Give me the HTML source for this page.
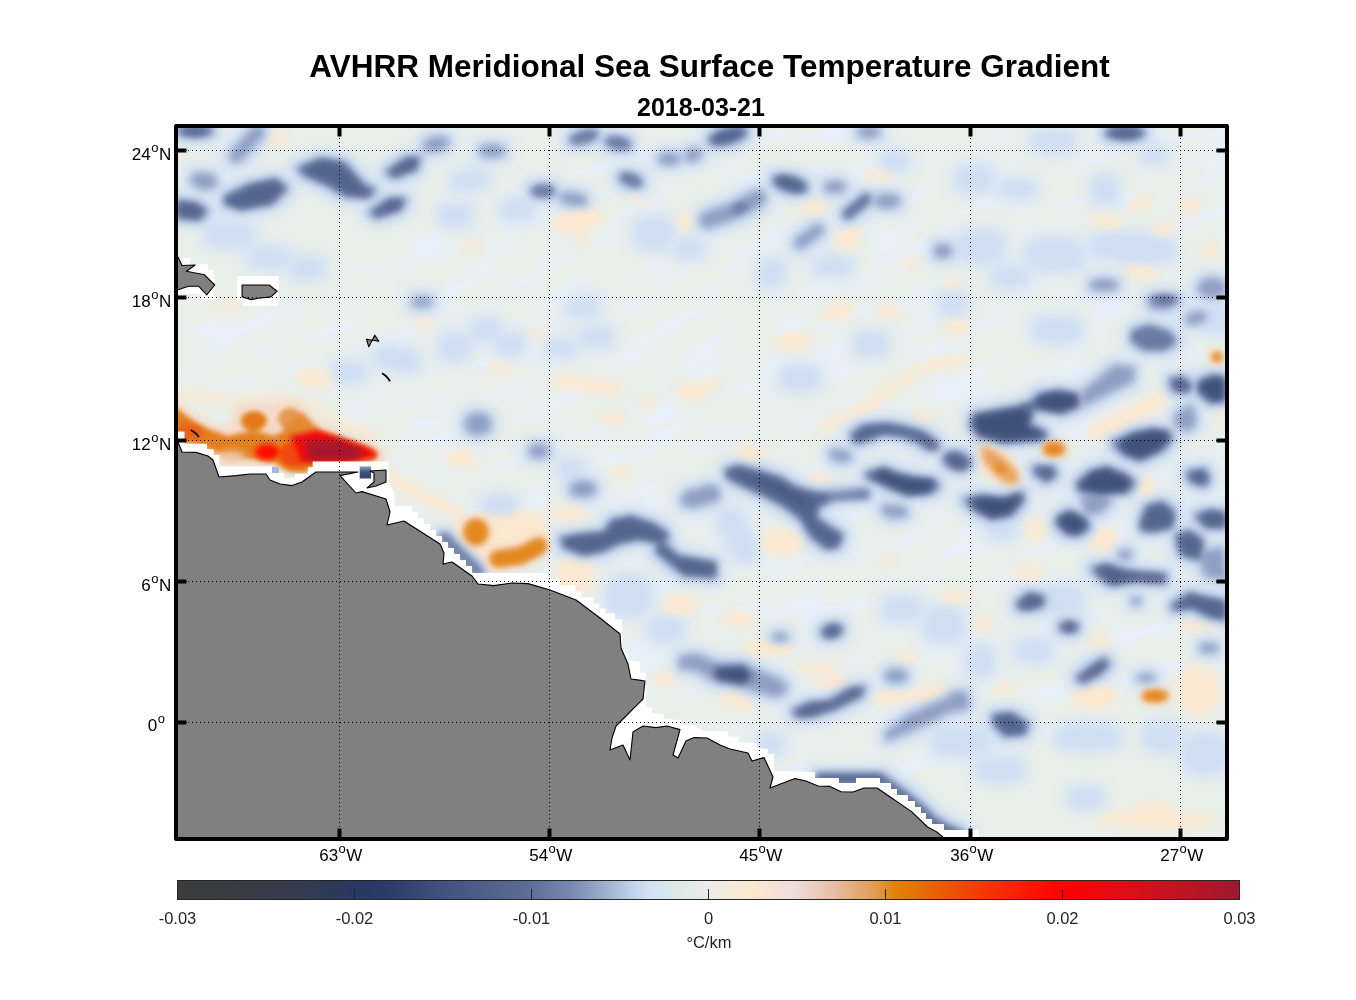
<!DOCTYPE html>
<html><head><meta charset="utf-8"><title>AVHRR Meridional SST Gradient</title>
<style>html,body{margin:0;padding:0;background:#fff;}body{width:1356px;height:1000px;position:relative;overflow:hidden;font-family:"Liberation Sans",sans-serif;}</style>
</head><body>
<svg width="1356" height="1000" viewBox="0 0 1356 1000" style="position:absolute;left:0;top:0"><defs><clipPath id="mapclip"><rect x="178" y="128" width="1047" height="709"/></clipPath><linearGradient id="cbar" x1="0" x2="1" y1="0" y2="0"><stop offset="0%" stop-color="#3c3c3c"/><stop offset="5%" stop-color="#3a3b40"/><stop offset="10%" stop-color="#363c4c"/><stop offset="15%" stop-color="#2c3a58"/><stop offset="17%" stop-color="#263864"/><stop offset="20%" stop-color="#2a3c68"/><stop offset="25%" stop-color="#40527e"/><stop offset="33.3%" stop-color="#5e6e98"/><stop offset="37%" stop-color="#7888b0"/><stop offset="40%" stop-color="#98acca"/><stop offset="43%" stop-color="#c0d4ec"/><stop offset="44.5%" stop-color="#d0e2f6"/><stop offset="47%" stop-color="#dceae6"/><stop offset="50%" stop-color="#ececea"/><stop offset="54%" stop-color="#fde9cc"/><stop offset="58%" stop-color="#eedddd"/><stop offset="62%" stop-color="#e8bca0"/><stop offset="66%" stop-color="#e09848"/><stop offset="67.5%" stop-color="#e08408"/><stop offset="75%" stop-color="#f04000"/><stop offset="83.3%" stop-color="#ff0000"/><stop offset="90%" stop-color="#d81018"/><stop offset="100%" stop-color="#a01830"/></linearGradient></defs><g clip-path="url(#mapclip)"><rect x="178" y="128" width="1047" height="709" fill="#e9efe9"/><filter id="turb" x="0" y="0" width="100%" height="100%"><feTurbulence type="fractalNoise" baseFrequency="0.018 0.05" numOctaves="2" seed="7" result="n"/><feColorMatrix in="n" type="matrix" values="0 0 0 0 0.80  0 0 0 0 0.87  0 0 0 0 0.96  3.2 0 0 0 -1.45"/></filter><g transform="rotate(-22 700 480)"><rect x="0" y="150" width="1400" height="700" filter="url(#turb)"/></g><filter id="fl1" x="-10%" y="-10%" width="120%" height="120%"><feMorphology operator="dilate" radius="9" result="m"/><feGaussianBlur stdDeviation="7"/></filter><g filter="url(#fl1)"><ellipse cx="195" cy="131" rx="18" ry="6" fill="#d9e6f4"/><polyline points="258,132 236,156" fill="none" stroke="#d9e6f4" stroke-width="11" stroke-linecap="round" stroke-linejoin="round"/><ellipse cx="204" cy="181" rx="12" ry="7" transform="rotate(10 204 181)" fill="#d9e6f4"/><polygon points="176,200.2 196,202.2 208.1,210.2 200.1,220.3 176,218.3" fill="#d9e6f4"/><polygon points="224.1,196.2 248.2,184.2 276.3,178.2 288.3,188.2 272.3,204.2 240.2,210.2 224.1,204.2" fill="#d9e6f4"/><polygon points="296.3,168.1 320.4,158.1 344.5,162.1 364.5,184.2 376.6,190.2 368.5,198.2 344.5,196.2 328.4,186.2 304.4,176.1" fill="#d9e6f4"/><polygon points="384.6,172.1 404.6,158.1 420.7,156.1 416.7,170.1 394.6,178.2" fill="#d9e6f4"/><ellipse cx="436" cy="144" rx="12" ry="6" transform="rotate(-15 436 144)" fill="#d9e6f4"/><polygon points="368.5,212.2 388.6,198.2 406.6,198.2 400.6,210.2 376.6,218.3" fill="#d9e6f4"/><ellipse cx="307" cy="268" rx="12" ry="7" fill="#d9e6f4"/><ellipse cx="230" cy="235" rx="20" ry="8" fill="#d9e6f4"/><ellipse cx="270" cy="258" rx="16" ry="6" fill="#d9e6f4"/><ellipse cx="492" cy="151" rx="12" ry="5" fill="#d9e6f4"/><ellipse cx="543" cy="191" rx="12" ry="6" fill="#d9e6f4"/><ellipse cx="573" cy="199" rx="13" ry="5" transform="rotate(10 573 199)" fill="#d9e6f4"/><ellipse cx="584" cy="137" rx="15" ry="6" transform="rotate(-15 584 137)" fill="#d9e6f4"/><ellipse cx="618" cy="143" rx="13" ry="6" transform="rotate(10 618 143)" fill="#d9e6f4"/><ellipse cx="631" cy="180" rx="12" ry="6" transform="rotate(20 631 180)" fill="#d9e6f4"/><ellipse cx="669" cy="159" rx="10" ry="5" fill="#d9e6f4"/><ellipse cx="693" cy="155" rx="8" ry="5" transform="rotate(-20 693 155)" fill="#d9e6f4"/><ellipse cx="518" cy="210" rx="12" ry="6" fill="#d9e6f4"/><ellipse cx="654" cy="233" rx="15" ry="12" fill="#d9e6f4"/><ellipse cx="689" cy="248" rx="10" ry="5" fill="#d9e6f4"/><ellipse cx="470" cy="180" rx="14" ry="5" transform="rotate(-10 470 180)" fill="#d9e6f4"/><ellipse cx="455" cy="215" rx="12" ry="6" fill="#d9e6f4"/><ellipse cx="728" cy="136" rx="20" ry="8" transform="rotate(-15 728 136)" fill="#d9e6f4"/><polyline points="708,220 736,210 758,198" fill="none" stroke="#d9e6f4" stroke-width="14" stroke-linecap="round" stroke-linejoin="round"/><ellipse cx="740" cy="208" rx="10" ry="6" transform="rotate(-20 740 208)" fill="#d9e6f4"/><ellipse cx="790" cy="184" rx="18" ry="8" transform="rotate(15 790 184)" fill="#d9e6f4"/><ellipse cx="835" cy="187" rx="10" ry="5" fill="#d9e6f4"/><polyline points="848,214 866,199" fill="none" stroke="#d9e6f4" stroke-width="10" stroke-linecap="round" stroke-linejoin="round"/><ellipse cx="887" cy="201" rx="12" ry="6" fill="#d9e6f4"/><ellipse cx="869" cy="132" rx="10" ry="5" fill="#d9e6f4"/><ellipse cx="895" cy="161" rx="9" ry="5" fill="#d9e6f4"/><polyline points="800,243 818,230" fill="none" stroke="#d9e6f4" stroke-width="9" stroke-linecap="round" stroke-linejoin="round"/><ellipse cx="833" cy="266" rx="14" ry="5" fill="#d9e6f4"/><ellipse cx="772" cy="273" rx="7" ry="10" transform="rotate(30 772 273)" fill="#d9e6f4"/><ellipse cx="943" cy="251" rx="8" ry="6" fill="#d9e6f4"/><ellipse cx="1125" cy="133" rx="20" ry="7" fill="#d9e6f4"/><ellipse cx="1155" cy="154" rx="8" ry="4" fill="#d9e6f4"/><ellipse cx="974" cy="179" rx="14" ry="9" fill="#d9e6f4"/><ellipse cx="1017" cy="189" rx="13" ry="5" fill="#d9e6f4"/><ellipse cx="1133" cy="248" rx="38" ry="10" transform="rotate(5 1133 248)" fill="#d9e6f4"/><ellipse cx="1104" cy="285" rx="13" ry="5" fill="#d9e6f4"/><ellipse cx="1053" cy="141" rx="17" ry="7" fill="#d9e6f4"/><ellipse cx="1105" cy="190" rx="9" ry="10" fill="#d9e6f4"/><ellipse cx="980" cy="247" rx="20" ry="12" fill="#d9e6f4"/><ellipse cx="1055" cy="255" rx="25" ry="12" fill="#d9e6f4"/><ellipse cx="1010" cy="277" rx="14" ry="6" fill="#d9e6f4"/><ellipse cx="1212" cy="288" rx="13" ry="9" fill="#d9e6f4"/><ellipse cx="1164" cy="300" rx="15" ry="5" fill="#d9e6f4"/><ellipse cx="350" cy="372" rx="11" ry="6" fill="#d9e6f4"/><ellipse cx="397" cy="359" rx="18" ry="7" transform="rotate(15 397 359)" fill="#d9e6f4"/><ellipse cx="422" cy="302" rx="9" ry="4" fill="#d9e6f4"/><ellipse cx="478" cy="424" rx="12" ry="10" fill="#d9e6f4"/><ellipse cx="539" cy="451" rx="9" ry="6" fill="#d9e6f4"/><ellipse cx="571" cy="469" rx="8" ry="6" fill="#d9e6f4"/><ellipse cx="455" cy="347" rx="11" ry="9" fill="#d9e6f4"/><ellipse cx="485" cy="330" rx="11" ry="6" transform="rotate(-15 485 330)" fill="#d9e6f4"/><ellipse cx="510" cy="344" rx="10" ry="6" fill="#d9e6f4"/><ellipse cx="561" cy="348" rx="10" ry="4" fill="#d9e6f4"/><ellipse cx="597" cy="337" rx="12" ry="5" fill="#d9e6f4"/><ellipse cx="583" cy="307" rx="12" ry="5" transform="rotate(-15 583 307)" fill="#d9e6f4"/><ellipse cx="871" cy="344" rx="12" ry="8" fill="#d9e6f4"/><ellipse cx="800" cy="378" rx="16" ry="8" fill="#d9e6f4"/><ellipse cx="953" cy="304" rx="10" ry="6" fill="#d9e6f4"/><polygon points="849.6,434.5 863,424.9 887.9,423 907.1,426.8 926.3,432.6 937.8,442.2 939.7,449.9 928.2,449.9 916.7,442.2 901.3,436.4 884.1,434.5 868.7,440.3 855.3,444.1" fill="#d9e6f4"/><polygon points="830.4,449.9 845.7,451.8 851.5,457.5 841.9,461.4 832.3,457.5" fill="#d9e6f4"/><ellipse cx="957" cy="461" rx="14" ry="9" transform="rotate(15 957 461)" fill="#d9e6f4"/><polygon points="724.9,469 738.4,465.2 757.5,470 780.5,476.7 795.9,486.3 815,492 834.2,494 868.7,490.1 868.7,497.8 834.2,499.7 818.9,507.4 817,517 830.4,526.6 843.8,534.2 838.1,547.7 826.6,549.6 811.2,538.1 799.7,518.9 784.4,507.4 763.3,495.9 738.4,484.4 726.8,478.6" fill="#d9e6f4"/><polygon points="734.5,471 761.4,474.8 786.3,484.4 807.4,495.9 813.1,507.4 807.4,515 792,503.5 769,492 742.2,480.5" fill="#d9e6f4"/><polygon points="864.9,472.9 884.1,467.1 899.4,472.9 914.8,476.7 933.9,478.6 939.7,486.3 930.1,494 907.1,495.9 891.8,490.1 876.4,482.5 866.8,478.6" fill="#d9e6f4"/><polyline points="823,496 865,493" fill="none" stroke="#d9e6f4" stroke-width="8" stroke-linecap="round" stroke-linejoin="round"/><polygon points="882.2,505.5 903.3,507.4 907.1,515 891.8,517 884.1,513.1" fill="#d9e6f4"/><ellipse cx="709" cy="494" rx="10" ry="8" fill="#d9e6f4"/><polygon points="972.7,414 1000,409 1025,405 1034,414 1030,424 1046,431 1047,440 1003,443 978,437 970,426" fill="#d9e6f4"/><polygon points="1038.8,393.2 1058,390 1078,393.2 1080,407 1062,414 1038,410 1030,402" fill="#d9e6f4"/><polyline points="1020,410 1045,402" fill="none" stroke="#d9e6f4" stroke-width="10" stroke-linecap="round" stroke-linejoin="round"/><polygon points="1082,393 1115,366 1134,368 1132,381 1107,393 1082,406" fill="#d9e6f4"/><polygon points="1131.7,331.3 1148.2,325.1 1168.9,331.3 1177.1,341.6 1164.8,349.9 1144.1,349.9 1131.7,341.6" fill="#d9e6f4"/><polygon points="1111,442.8 1131.7,432.5 1152.4,428.3 1168.9,430.4 1173,438.7 1162.7,451.1 1140,461.4 1123.4,455.2" fill="#d9e6f4"/><polygon points="1197.8,380.8 1212.2,374.7 1226,376.7 1226,401.5 1210.2,403.6 1197.8,393.2" fill="#d9e6f4"/><polygon points="1168.9,378.8 1183.3,376.7 1193.6,385 1187.5,393.2 1173,391.2" fill="#d9e6f4"/><polygon points="1177,414 1191.6,405.6 1195.7,422.2 1187.5,430.4 1175,424.2" fill="#d9e6f4"/><ellipse cx="1161" cy="304" rx="11" ry="5" fill="#d9e6f4"/><ellipse cx="1196" cy="318" rx="10" ry="5" transform="rotate(-15 1196 318)" fill="#d9e6f4"/><ellipse cx="1057" cy="330" rx="20" ry="9" fill="#d9e6f4"/><ellipse cx="1218" cy="320" rx="10" ry="10" fill="#d9e6f4"/><ellipse cx="962" cy="462" rx="6" ry="9" fill="#d9e6f4"/><polygon points="559.5,537.7 579.4,533.7 603.3,531.7 611.2,519.8 631.2,515.8 655,523.8 667,531.7 669,539.7 659,543.7 639,539.7 619.2,543.7 603.3,551.7 583.4,555.6 563.5,547.7" fill="#d9e6f4"/><polygon points="659,537.7 679,555.6 716,562 716,578 683,575.5 655,551.7" fill="#d9e6f4"/><ellipse cx="583" cy="489" rx="12" ry="7" fill="#d9e6f4"/><ellipse cx="696" cy="498" rx="14" ry="8" transform="rotate(-10 696 498)" fill="#d9e6f4"/><ellipse cx="629" cy="596" rx="18" ry="16" fill="#d9e6f4"/><ellipse cx="666" cy="629" rx="13" ry="8" fill="#d9e6f4"/><polyline points="444,538 478,572" fill="none" stroke="#d9e6f4" stroke-width="10" stroke-linecap="round" stroke-linejoin="round"/><ellipse cx="500" cy="506" rx="14" ry="6" fill="#d9e6f4"/><polyline points="730,520 745,550" fill="none" stroke="#d9e6f4" stroke-width="14" stroke-linecap="round" stroke-linejoin="round"/><polygon points="962.4,499.2 981,495.1 1003.7,497.2 1022.3,491 1024.3,501.3 1011.9,515.8 991.3,519.9 974.8,511.6" fill="#d9e6f4"/><polygon points="1076,482.7 1090.4,470.3 1107,466.2 1127.6,474.5 1135.8,482.7 1127.6,493 1098.7,495.1 1078,491" fill="#d9e6f4"/><polygon points="1057.4,515.8 1069.8,509.6 1086.3,517.8 1090.4,528.1 1078,536.4 1065.6,534.3 1055.3,524" fill="#d9e6f4"/><polygon points="1082,495 1100,494 1112,500 1100,512 1086,514" fill="#d9e6f4"/><polygon points="1032.6,466.2 1053.2,466.2 1057.4,474.5 1047,482.7 1034.7,474.5" fill="#d9e6f4"/><polygon points="1140,522 1146.2,505.4 1162.7,501.3 1175.1,511.6 1173,528.1 1152.4,532.3 1140,530.2" fill="#d9e6f4"/><polygon points="1193.6,515 1210,509.6 1226,512 1226,528 1205,528" fill="#d9e6f4"/><polygon points="1175,535 1190,530 1204,540 1200,561 1180,555" fill="#d9e6f4"/><polygon points="1200,553 1222,548 1226,579.8 1205,575" fill="#d9e6f4"/><polygon points="1185.4,472 1205,468.3 1210.2,480 1204,487 1190,482" fill="#d9e6f4"/><polygon points="1090.4,567.4 1107,563.2 1125.5,569.4 1140,571.5 1166.8,573.6 1164.8,583.9 1135.8,581.8 1111,586 1098.7,577.7" fill="#d9e6f4"/><ellipse cx="1114" cy="577" rx="12" ry="6" fill="#d9e6f4"/><polygon points="1016,602.5 1028.5,592.2 1045,596.3 1043,606.6 1028.5,610.7 1018,608.7" fill="#d9e6f4"/><polygon points="1171,604.5 1189.5,592.2 1204,596.3 1226,600.4 1226,621 1208.1,617 1191.6,608.7 1173,610.7" fill="#d9e6f4"/><ellipse cx="1069" cy="627" rx="10" ry="6" fill="#d9e6f4"/><ellipse cx="1001" cy="527" rx="10" ry="7" fill="#d9e6f4"/><ellipse cx="1125" cy="555" rx="6" ry="4" fill="#d9e6f4"/><ellipse cx="1136" cy="601" rx="4" ry="3" fill="#d9e6f4"/><ellipse cx="902" cy="609" rx="15" ry="8" fill="#d9e6f4"/><ellipse cx="944" cy="625" rx="16" ry="13" fill="#d9e6f4"/><ellipse cx="1060" cy="600" rx="20" ry="10" fill="#d9e6f4"/><polygon points="680,657 696.5,655 717.2,663.2 742,663.2 758.5,671.5 779,679.8 787.4,688 777,696.3 762.6,692.2 742,686 717.2,681.8 696.5,669.4 680,667.4" fill="#d9e6f4"/><polygon points="711,667 745,665 756,676 745,686 715,680" fill="#d9e6f4"/><polygon points="791.5,710.7 808,702.5 828.7,700.4 849.3,688 865.8,686 861.7,696.3 837,708.7 812.2,717 795.6,717" fill="#d9e6f4"/><ellipse cx="896" cy="676" rx="10" ry="6" fill="#d9e6f4"/><ellipse cx="832" cy="631" rx="11" ry="7" transform="rotate(-15 832 631)" fill="#d9e6f4"/><ellipse cx="780" cy="637" rx="7" ry="3" fill="#d9e6f4"/><polygon points="886.5,733.4 907,717 938,702.5 954.6,696.3 960,704.5 938,717 907,731.4 886.5,740" fill="#d9e6f4"/><polygon points="1075.4,677.2 1093,664 1104,657.4 1110.6,664 1099.6,675 1082,683.8" fill="#d9e6f4"/><polygon points="991.8,714.6 1011.6,712.4 1029.2,723.4 1024.8,734.4 1005,736.6 994,725.6" fill="#d9e6f4"/><polygon points="950,694 966,692 968,708 950,711" fill="#d9e6f4"/><ellipse cx="1034" cy="651" rx="14" ry="7" fill="#d9e6f4"/><ellipse cx="980" cy="661" rx="9" ry="11" fill="#d9e6f4"/><ellipse cx="1146" cy="678" rx="8" ry="3" fill="#d9e6f4"/><ellipse cx="1209" cy="648" rx="8" ry="4" fill="#d9e6f4"/><ellipse cx="1163" cy="737" rx="15" ry="10" fill="#d9e6f4"/><ellipse cx="1088" cy="737" rx="28" ry="9" fill="#d9e6f4"/><ellipse cx="1086" cy="798" rx="13" ry="6" fill="#d9e6f4"/><ellipse cx="1206" cy="754" rx="19" ry="16" fill="#d9e6f4"/><polyline points="820,779 880,779 893,789 908,800 921,811 932,822 946,830 960,836" fill="none" stroke="#d9e6f4" stroke-width="11" stroke-linecap="round" stroke-linejoin="round"/><ellipse cx="771" cy="744" rx="8" ry="6" fill="#d9e6f4"/><ellipse cx="960" cy="742" rx="25" ry="10" fill="#d9e6f4"/><ellipse cx="1000" cy="770" rx="20" ry="8" fill="#d9e6f4"/></g><filter id="fl2" x="-10%" y="-10%" width="120%" height="120%"><feGaussianBlur stdDeviation="4"/></filter><g filter="url(#fl2)"><ellipse cx="275" cy="139" rx="11" ry="7" transform="rotate(-15 275 139)" fill="#fbe8d0"/><ellipse cx="578" cy="220" rx="27" ry="12" transform="rotate(-10 578 220)" fill="#fbe8d0"/><ellipse cx="581" cy="240" rx="6" ry="7" fill="#fbe8d0"/><ellipse cx="685" cy="222" rx="8" ry="10" fill="#fbe8d0"/><ellipse cx="640" cy="201" rx="11" ry="3" fill="#fbe8d0"/><ellipse cx="472" cy="246" rx="8" ry="5" fill="#fbe8d0"/><ellipse cx="813" cy="207" rx="13" ry="7" fill="#fbe8d0"/><ellipse cx="848" cy="238" rx="15" ry="10" transform="rotate(-20 848 238)" fill="#fbe8d0"/><ellipse cx="878" cy="176" rx="15" ry="6" fill="#fbe8d0"/><ellipse cx="911" cy="261" rx="8" ry="6" fill="#fbe8d0"/><ellipse cx="951" cy="283" rx="8" ry="6" fill="#fbe8d0"/><ellipse cx="1106" cy="221" rx="17" ry="7" transform="rotate(10 1106 221)" fill="#fbe8d0"/><ellipse cx="1139" cy="203" rx="12" ry="7" transform="rotate(-20 1139 203)" fill="#fbe8d0"/><ellipse cx="1189" cy="206" rx="10" ry="8" fill="#fbe8d0"/><ellipse cx="1163" cy="230" rx="12" ry="6" fill="#fbe8d0"/><ellipse cx="1211" cy="251" rx="8" ry="8" fill="#fbe8d0"/><ellipse cx="1141" cy="272" rx="18" ry="7" transform="rotate(10 1141 272)" fill="#fbe8d0"/><ellipse cx="229" cy="306" rx="13" ry="4" fill="#fbe8d0"/><ellipse cx="315" cy="379" rx="20" ry="9" transform="rotate(10 315 379)" fill="#fbe8d0"/><ellipse cx="424" cy="323" rx="9" ry="5" fill="#fbe8d0"/><ellipse cx="498" cy="368" rx="10" ry="6" fill="#fbe8d0"/><ellipse cx="539" cy="336" rx="9" ry="4" fill="#fbe8d0"/><polyline points="560,382 590,385 615,388" fill="none" stroke="#fbe8d0" stroke-width="14" stroke-linecap="round" stroke-linejoin="round"/><ellipse cx="612" cy="418" rx="13" ry="7" fill="#fbe8d0"/><ellipse cx="649" cy="403" rx="10" ry="5" fill="#fbe8d0"/><ellipse cx="692" cy="392" rx="17" ry="10" fill="#fbe8d0"/><ellipse cx="619" cy="470" rx="10" ry="5" fill="#fbe8d0"/><ellipse cx="460" cy="459" rx="16" ry="10" fill="#fbe8d0"/><polyline points="823,427 873,403 889,388 923,368 963,360" fill="none" stroke="#fbe8d0" stroke-width="10" stroke-linecap="round" stroke-linejoin="round"/><ellipse cx="925" cy="415" rx="10" ry="6" fill="#fbe8d0"/><ellipse cx="793" cy="341" rx="19" ry="9" fill="#fbe8d0"/><ellipse cx="839" cy="312" rx="16" ry="9" transform="rotate(-20 839 312)" fill="#fbe8d0"/><ellipse cx="889" cy="311" rx="14" ry="7" fill="#fbe8d0"/><ellipse cx="956" cy="327" rx="13" ry="7" fill="#fbe8d0"/><ellipse cx="750" cy="453" rx="14" ry="8" fill="#fbe8d0"/><ellipse cx="712" cy="384" rx="8" ry="6" fill="#fbe8d0"/><polyline points="1095,432 1160,400" fill="none" stroke="#fbe8d0" stroke-width="18" stroke-linecap="round" stroke-linejoin="round"/><ellipse cx="1218" cy="416" rx="7" ry="7" fill="#fbe8d0"/><ellipse cx="681" cy="605" rx="18" ry="10" fill="#fbe8d0"/><ellipse cx="569" cy="514" rx="18" ry="8" fill="#fbe8d0"/><ellipse cx="575" cy="575" rx="20" ry="18" fill="#fbe8d0"/><ellipse cx="818" cy="477" rx="13" ry="5" fill="#fbe8d0"/><ellipse cx="740" cy="619" rx="16" ry="8" fill="#fbe8d0"/><ellipse cx="782" cy="542" rx="22" ry="14" fill="#fbe8d0"/><ellipse cx="887" cy="561" rx="8" ry="5" fill="#fbe8d0"/><ellipse cx="956" cy="597" rx="17" ry="6" fill="#fbe8d0"/><ellipse cx="768" cy="646" rx="28" ry="6" fill="#fbe8d0"/><ellipse cx="1036" cy="530" rx="10" ry="12" fill="#fbe8d0"/><ellipse cx="1104" cy="539" rx="15" ry="11" transform="rotate(-30 1104 539)" fill="#fbe8d0"/><ellipse cx="1145" cy="487" rx="10" ry="11" fill="#fbe8d0"/><ellipse cx="1028" cy="573" rx="16" ry="7" fill="#fbe8d0"/><ellipse cx="982" cy="624" rx="10" ry="7" fill="#fbe8d0"/><ellipse cx="1100" cy="640" rx="11" ry="7" fill="#fbe8d0"/><ellipse cx="1197" cy="625" rx="22" ry="6" fill="#fbe8d0"/><ellipse cx="664" cy="679" rx="12" ry="7" fill="#fbe8d0"/><ellipse cx="736" cy="702" rx="17" ry="8" transform="rotate(20 736 702)" fill="#fbe8d0"/><ellipse cx="770" cy="651" rx="21" ry="5" fill="#fbe8d0"/><ellipse cx="817" cy="669" rx="22" ry="5" fill="#fbe8d0"/><ellipse cx="832" cy="683" rx="17" ry="7" fill="#fbe8d0"/><ellipse cx="891" cy="698" rx="19" ry="8" fill="#fbe8d0"/><ellipse cx="902" cy="658" rx="8" ry="4" fill="#fbe8d0"/><ellipse cx="1095" cy="697" rx="24" ry="13" fill="#fbe8d0"/><ellipse cx="1006" cy="688" rx="10" ry="6" fill="#fbe8d0"/><ellipse cx="912" cy="659" rx="8" ry="5" fill="#fbe8d0"/><ellipse cx="934" cy="695" rx="30" ry="9" fill="#fbe8d0"/><ellipse cx="1154" cy="813" rx="21" ry="12" fill="#fbe8d0"/><ellipse cx="1198" cy="690" rx="22" ry="25" fill="#fbe8d0"/><ellipse cx="1157" cy="820" rx="60" ry="9" fill="#fbe8d0"/><ellipse cx="1054" cy="449" rx="10" ry="6" fill="#fbe8d0"/><polygon points="982,447 995,452 1015,470 1018,483 1005,482 985,462" fill="#fbe8d0"/><ellipse cx="1000" cy="468" rx="6" ry="4" transform="rotate(40 1000 468)" fill="#fbe8d0"/><ellipse cx="997" cy="465" rx="18" ry="15" transform="rotate(40 997 465)" fill="#fbe8d0"/><ellipse cx="1217" cy="357" rx="4" ry="4" fill="#fbe8d0"/><ellipse cx="1217" cy="357" rx="8" ry="8" fill="#fbe8d0"/><ellipse cx="1155" cy="696" rx="12" ry="5" fill="#fbe8d0"/><ellipse cx="476" cy="532" rx="11" ry="12" fill="#fbe8d0"/><polyline points="498,559 520,556 539,546" fill="none" stroke="#fbe8d0" stroke-width="14" stroke-linecap="round" stroke-linejoin="round"/><polyline points="380,470 420,495 460,515" fill="none" stroke="#fbe8d0" stroke-width="12" stroke-linecap="round" stroke-linejoin="round"/><polyline points="176,393.6 235.7,401.5 287.5,397.6 315.4,409.5 375,437.4" fill="none" stroke="#fbe8d0" stroke-width="8" stroke-linecap="round" stroke-linejoin="round"/><ellipse cx="495" cy="540" rx="55" ry="30" transform="rotate(-15 495 540)" fill="#fbe8d0"/></g><filter id="fl3" x="-10%" y="-10%" width="120%" height="120%"><feMorphology operator="dilate" radius="3" result="m"/><feGaussianBlur stdDeviation="4"/></filter><g filter="url(#fl3)"><ellipse cx="195" cy="131" rx="18" ry="6" fill="#cfdef3"/><polyline points="258,132 236,156" fill="none" stroke="#cfdef3" stroke-width="11" stroke-linecap="round" stroke-linejoin="round"/><ellipse cx="204" cy="181" rx="12" ry="7" transform="rotate(10 204 181)" fill="#cfdef3"/><polygon points="176,200.2 196,202.2 208.1,210.2 200.1,220.3 176,218.3" fill="#cfdef3"/><polygon points="224.1,196.2 248.2,184.2 276.3,178.2 288.3,188.2 272.3,204.2 240.2,210.2 224.1,204.2" fill="#cfdef3"/><polygon points="296.3,168.1 320.4,158.1 344.5,162.1 364.5,184.2 376.6,190.2 368.5,198.2 344.5,196.2 328.4,186.2 304.4,176.1" fill="#cfdef3"/><polygon points="384.6,172.1 404.6,158.1 420.7,156.1 416.7,170.1 394.6,178.2" fill="#cfdef3"/><ellipse cx="436" cy="144" rx="12" ry="6" transform="rotate(-15 436 144)" fill="#cfdef3"/><polygon points="368.5,212.2 388.6,198.2 406.6,198.2 400.6,210.2 376.6,218.3" fill="#cfdef3"/><ellipse cx="307" cy="268" rx="12" ry="7" fill="#cfdef3"/><ellipse cx="230" cy="235" rx="20" ry="8" fill="#cfdef3"/><ellipse cx="270" cy="258" rx="16" ry="6" fill="#cfdef3"/><ellipse cx="492" cy="151" rx="12" ry="5" fill="#cfdef3"/><ellipse cx="543" cy="191" rx="12" ry="6" fill="#cfdef3"/><ellipse cx="573" cy="199" rx="13" ry="5" transform="rotate(10 573 199)" fill="#cfdef3"/><ellipse cx="584" cy="137" rx="15" ry="6" transform="rotate(-15 584 137)" fill="#cfdef3"/><ellipse cx="618" cy="143" rx="13" ry="6" transform="rotate(10 618 143)" fill="#cfdef3"/><ellipse cx="631" cy="180" rx="12" ry="6" transform="rotate(20 631 180)" fill="#cfdef3"/><ellipse cx="669" cy="159" rx="10" ry="5" fill="#cfdef3"/><ellipse cx="693" cy="155" rx="8" ry="5" transform="rotate(-20 693 155)" fill="#cfdef3"/><ellipse cx="518" cy="210" rx="12" ry="6" fill="#cfdef3"/><ellipse cx="654" cy="233" rx="15" ry="12" fill="#cfdef3"/><ellipse cx="689" cy="248" rx="10" ry="5" fill="#cfdef3"/><ellipse cx="470" cy="180" rx="14" ry="5" transform="rotate(-10 470 180)" fill="#cfdef3"/><ellipse cx="455" cy="215" rx="12" ry="6" fill="#cfdef3"/><ellipse cx="728" cy="136" rx="20" ry="8" transform="rotate(-15 728 136)" fill="#cfdef3"/><polyline points="708,220 736,210 758,198" fill="none" stroke="#cfdef3" stroke-width="14" stroke-linecap="round" stroke-linejoin="round"/><ellipse cx="740" cy="208" rx="10" ry="6" transform="rotate(-20 740 208)" fill="#cfdef3"/><ellipse cx="790" cy="184" rx="18" ry="8" transform="rotate(15 790 184)" fill="#cfdef3"/><ellipse cx="835" cy="187" rx="10" ry="5" fill="#cfdef3"/><polyline points="848,214 866,199" fill="none" stroke="#cfdef3" stroke-width="10" stroke-linecap="round" stroke-linejoin="round"/><ellipse cx="887" cy="201" rx="12" ry="6" fill="#cfdef3"/><ellipse cx="869" cy="132" rx="10" ry="5" fill="#cfdef3"/><ellipse cx="895" cy="161" rx="9" ry="5" fill="#cfdef3"/><polyline points="800,243 818,230" fill="none" stroke="#cfdef3" stroke-width="9" stroke-linecap="round" stroke-linejoin="round"/><ellipse cx="833" cy="266" rx="14" ry="5" fill="#cfdef3"/><ellipse cx="772" cy="273" rx="7" ry="10" transform="rotate(30 772 273)" fill="#cfdef3"/><ellipse cx="943" cy="251" rx="8" ry="6" fill="#cfdef3"/><ellipse cx="1125" cy="133" rx="20" ry="7" fill="#cfdef3"/><ellipse cx="1155" cy="154" rx="8" ry="4" fill="#cfdef3"/><ellipse cx="974" cy="179" rx="14" ry="9" fill="#cfdef3"/><ellipse cx="1017" cy="189" rx="13" ry="5" fill="#cfdef3"/><ellipse cx="1133" cy="248" rx="38" ry="10" transform="rotate(5 1133 248)" fill="#cfdef3"/><ellipse cx="1104" cy="285" rx="13" ry="5" fill="#cfdef3"/><ellipse cx="1053" cy="141" rx="17" ry="7" fill="#cfdef3"/><ellipse cx="1105" cy="190" rx="9" ry="10" fill="#cfdef3"/><ellipse cx="980" cy="247" rx="20" ry="12" fill="#cfdef3"/><ellipse cx="1055" cy="255" rx="25" ry="12" fill="#cfdef3"/><ellipse cx="1010" cy="277" rx="14" ry="6" fill="#cfdef3"/><ellipse cx="1212" cy="288" rx="13" ry="9" fill="#cfdef3"/><ellipse cx="1164" cy="300" rx="15" ry="5" fill="#cfdef3"/><ellipse cx="350" cy="372" rx="11" ry="6" fill="#cfdef3"/><ellipse cx="397" cy="359" rx="18" ry="7" transform="rotate(15 397 359)" fill="#cfdef3"/><ellipse cx="422" cy="302" rx="9" ry="4" fill="#cfdef3"/><ellipse cx="478" cy="424" rx="12" ry="10" fill="#cfdef3"/><ellipse cx="539" cy="451" rx="9" ry="6" fill="#cfdef3"/><ellipse cx="571" cy="469" rx="8" ry="6" fill="#cfdef3"/><ellipse cx="455" cy="347" rx="11" ry="9" fill="#cfdef3"/><ellipse cx="485" cy="330" rx="11" ry="6" transform="rotate(-15 485 330)" fill="#cfdef3"/><ellipse cx="510" cy="344" rx="10" ry="6" fill="#cfdef3"/><ellipse cx="561" cy="348" rx="10" ry="4" fill="#cfdef3"/><ellipse cx="597" cy="337" rx="12" ry="5" fill="#cfdef3"/><ellipse cx="583" cy="307" rx="12" ry="5" transform="rotate(-15 583 307)" fill="#cfdef3"/><ellipse cx="871" cy="344" rx="12" ry="8" fill="#cfdef3"/><ellipse cx="800" cy="378" rx="16" ry="8" fill="#cfdef3"/><ellipse cx="953" cy="304" rx="10" ry="6" fill="#cfdef3"/><polygon points="849.6,434.5 863,424.9 887.9,423 907.1,426.8 926.3,432.6 937.8,442.2 939.7,449.9 928.2,449.9 916.7,442.2 901.3,436.4 884.1,434.5 868.7,440.3 855.3,444.1" fill="#cfdef3"/><polygon points="830.4,449.9 845.7,451.8 851.5,457.5 841.9,461.4 832.3,457.5" fill="#cfdef3"/><ellipse cx="957" cy="461" rx="14" ry="9" transform="rotate(15 957 461)" fill="#cfdef3"/><polygon points="724.9,469 738.4,465.2 757.5,470 780.5,476.7 795.9,486.3 815,492 834.2,494 868.7,490.1 868.7,497.8 834.2,499.7 818.9,507.4 817,517 830.4,526.6 843.8,534.2 838.1,547.7 826.6,549.6 811.2,538.1 799.7,518.9 784.4,507.4 763.3,495.9 738.4,484.4 726.8,478.6" fill="#cfdef3"/><polygon points="734.5,471 761.4,474.8 786.3,484.4 807.4,495.9 813.1,507.4 807.4,515 792,503.5 769,492 742.2,480.5" fill="#cfdef3"/><polygon points="864.9,472.9 884.1,467.1 899.4,472.9 914.8,476.7 933.9,478.6 939.7,486.3 930.1,494 907.1,495.9 891.8,490.1 876.4,482.5 866.8,478.6" fill="#cfdef3"/><polyline points="823,496 865,493" fill="none" stroke="#cfdef3" stroke-width="8" stroke-linecap="round" stroke-linejoin="round"/><polygon points="882.2,505.5 903.3,507.4 907.1,515 891.8,517 884.1,513.1" fill="#cfdef3"/><ellipse cx="709" cy="494" rx="10" ry="8" fill="#cfdef3"/><polygon points="972.7,414 1000,409 1025,405 1034,414 1030,424 1046,431 1047,440 1003,443 978,437 970,426" fill="#cfdef3"/><polygon points="1038.8,393.2 1058,390 1078,393.2 1080,407 1062,414 1038,410 1030,402" fill="#cfdef3"/><polyline points="1020,410 1045,402" fill="none" stroke="#cfdef3" stroke-width="10" stroke-linecap="round" stroke-linejoin="round"/><polygon points="1082,393 1115,366 1134,368 1132,381 1107,393 1082,406" fill="#cfdef3"/><polygon points="1131.7,331.3 1148.2,325.1 1168.9,331.3 1177.1,341.6 1164.8,349.9 1144.1,349.9 1131.7,341.6" fill="#cfdef3"/><polygon points="1111,442.8 1131.7,432.5 1152.4,428.3 1168.9,430.4 1173,438.7 1162.7,451.1 1140,461.4 1123.4,455.2" fill="#cfdef3"/><polygon points="1197.8,380.8 1212.2,374.7 1226,376.7 1226,401.5 1210.2,403.6 1197.8,393.2" fill="#cfdef3"/><polygon points="1168.9,378.8 1183.3,376.7 1193.6,385 1187.5,393.2 1173,391.2" fill="#cfdef3"/><polygon points="1177,414 1191.6,405.6 1195.7,422.2 1187.5,430.4 1175,424.2" fill="#cfdef3"/><ellipse cx="1161" cy="304" rx="11" ry="5" fill="#cfdef3"/><ellipse cx="1196" cy="318" rx="10" ry="5" transform="rotate(-15 1196 318)" fill="#cfdef3"/><ellipse cx="1057" cy="330" rx="20" ry="9" fill="#cfdef3"/><ellipse cx="1218" cy="320" rx="10" ry="10" fill="#cfdef3"/><ellipse cx="962" cy="462" rx="6" ry="9" fill="#cfdef3"/><polygon points="559.5,537.7 579.4,533.7 603.3,531.7 611.2,519.8 631.2,515.8 655,523.8 667,531.7 669,539.7 659,543.7 639,539.7 619.2,543.7 603.3,551.7 583.4,555.6 563.5,547.7" fill="#cfdef3"/><polygon points="659,537.7 679,555.6 716,562 716,578 683,575.5 655,551.7" fill="#cfdef3"/><ellipse cx="583" cy="489" rx="12" ry="7" fill="#cfdef3"/><ellipse cx="696" cy="498" rx="14" ry="8" transform="rotate(-10 696 498)" fill="#cfdef3"/><ellipse cx="629" cy="596" rx="18" ry="16" fill="#cfdef3"/><ellipse cx="666" cy="629" rx="13" ry="8" fill="#cfdef3"/><polyline points="444,538 478,572" fill="none" stroke="#cfdef3" stroke-width="10" stroke-linecap="round" stroke-linejoin="round"/><ellipse cx="500" cy="506" rx="14" ry="6" fill="#cfdef3"/><polyline points="730,520 745,550" fill="none" stroke="#cfdef3" stroke-width="14" stroke-linecap="round" stroke-linejoin="round"/><polygon points="962.4,499.2 981,495.1 1003.7,497.2 1022.3,491 1024.3,501.3 1011.9,515.8 991.3,519.9 974.8,511.6" fill="#cfdef3"/><polygon points="1076,482.7 1090.4,470.3 1107,466.2 1127.6,474.5 1135.8,482.7 1127.6,493 1098.7,495.1 1078,491" fill="#cfdef3"/><polygon points="1057.4,515.8 1069.8,509.6 1086.3,517.8 1090.4,528.1 1078,536.4 1065.6,534.3 1055.3,524" fill="#cfdef3"/><polygon points="1082,495 1100,494 1112,500 1100,512 1086,514" fill="#cfdef3"/><polygon points="1032.6,466.2 1053.2,466.2 1057.4,474.5 1047,482.7 1034.7,474.5" fill="#cfdef3"/><polygon points="1140,522 1146.2,505.4 1162.7,501.3 1175.1,511.6 1173,528.1 1152.4,532.3 1140,530.2" fill="#cfdef3"/><polygon points="1193.6,515 1210,509.6 1226,512 1226,528 1205,528" fill="#cfdef3"/><polygon points="1175,535 1190,530 1204,540 1200,561 1180,555" fill="#cfdef3"/><polygon points="1200,553 1222,548 1226,579.8 1205,575" fill="#cfdef3"/><polygon points="1185.4,472 1205,468.3 1210.2,480 1204,487 1190,482" fill="#cfdef3"/><polygon points="1090.4,567.4 1107,563.2 1125.5,569.4 1140,571.5 1166.8,573.6 1164.8,583.9 1135.8,581.8 1111,586 1098.7,577.7" fill="#cfdef3"/><ellipse cx="1114" cy="577" rx="12" ry="6" fill="#cfdef3"/><polygon points="1016,602.5 1028.5,592.2 1045,596.3 1043,606.6 1028.5,610.7 1018,608.7" fill="#cfdef3"/><polygon points="1171,604.5 1189.5,592.2 1204,596.3 1226,600.4 1226,621 1208.1,617 1191.6,608.7 1173,610.7" fill="#cfdef3"/><ellipse cx="1069" cy="627" rx="10" ry="6" fill="#cfdef3"/><ellipse cx="1001" cy="527" rx="10" ry="7" fill="#cfdef3"/><ellipse cx="1125" cy="555" rx="6" ry="4" fill="#cfdef3"/><ellipse cx="1136" cy="601" rx="4" ry="3" fill="#cfdef3"/><ellipse cx="902" cy="609" rx="15" ry="8" fill="#cfdef3"/><ellipse cx="944" cy="625" rx="16" ry="13" fill="#cfdef3"/><ellipse cx="1060" cy="600" rx="20" ry="10" fill="#cfdef3"/><polygon points="680,657 696.5,655 717.2,663.2 742,663.2 758.5,671.5 779,679.8 787.4,688 777,696.3 762.6,692.2 742,686 717.2,681.8 696.5,669.4 680,667.4" fill="#cfdef3"/><polygon points="711,667 745,665 756,676 745,686 715,680" fill="#cfdef3"/><polygon points="791.5,710.7 808,702.5 828.7,700.4 849.3,688 865.8,686 861.7,696.3 837,708.7 812.2,717 795.6,717" fill="#cfdef3"/><ellipse cx="896" cy="676" rx="10" ry="6" fill="#cfdef3"/><ellipse cx="832" cy="631" rx="11" ry="7" transform="rotate(-15 832 631)" fill="#cfdef3"/><ellipse cx="780" cy="637" rx="7" ry="3" fill="#cfdef3"/><polygon points="886.5,733.4 907,717 938,702.5 954.6,696.3 960,704.5 938,717 907,731.4 886.5,740" fill="#cfdef3"/><polygon points="1075.4,677.2 1093,664 1104,657.4 1110.6,664 1099.6,675 1082,683.8" fill="#cfdef3"/><polygon points="991.8,714.6 1011.6,712.4 1029.2,723.4 1024.8,734.4 1005,736.6 994,725.6" fill="#cfdef3"/><polygon points="950,694 966,692 968,708 950,711" fill="#cfdef3"/><ellipse cx="1034" cy="651" rx="14" ry="7" fill="#cfdef3"/><ellipse cx="980" cy="661" rx="9" ry="11" fill="#cfdef3"/><ellipse cx="1146" cy="678" rx="8" ry="3" fill="#cfdef3"/><ellipse cx="1209" cy="648" rx="8" ry="4" fill="#cfdef3"/><ellipse cx="1163" cy="737" rx="15" ry="10" fill="#cfdef3"/><ellipse cx="1088" cy="737" rx="28" ry="9" fill="#cfdef3"/><ellipse cx="1086" cy="798" rx="13" ry="6" fill="#cfdef3"/><ellipse cx="1206" cy="754" rx="19" ry="16" fill="#cfdef3"/><polyline points="820,779 880,779 893,789 908,800 921,811 932,822 946,830 960,836" fill="none" stroke="#cfdef3" stroke-width="11" stroke-linecap="round" stroke-linejoin="round"/><ellipse cx="771" cy="744" rx="8" ry="6" fill="#cfdef3"/><ellipse cx="960" cy="742" rx="25" ry="10" fill="#cfdef3"/><ellipse cx="1000" cy="770" rx="20" ry="8" fill="#cfdef3"/></g><filter id="fl4" x="-10%" y="-10%" width="120%" height="120%"><feMorphology operator="dilate" radius="3" result="m"/><feGaussianBlur stdDeviation="4"/></filter><g filter="url(#fl4)"><ellipse cx="195" cy="131" rx="18" ry="6" fill="#b9c9e3"/><polyline points="258,132 236,156" fill="none" stroke="#b9c9e3" stroke-width="11" stroke-linecap="round" stroke-linejoin="round"/><ellipse cx="204" cy="181" rx="12" ry="7" transform="rotate(10 204 181)" fill="#b9c9e3"/><polygon points="176,200.2 196,202.2 208.1,210.2 200.1,220.3 176,218.3" fill="#b9c9e3"/><polygon points="224.1,196.2 248.2,184.2 276.3,178.2 288.3,188.2 272.3,204.2 240.2,210.2 224.1,204.2" fill="#b9c9e3"/><polygon points="296.3,168.1 320.4,158.1 344.5,162.1 364.5,184.2 376.6,190.2 368.5,198.2 344.5,196.2 328.4,186.2 304.4,176.1" fill="#b9c9e3"/><polygon points="384.6,172.1 404.6,158.1 420.7,156.1 416.7,170.1 394.6,178.2" fill="#b9c9e3"/><ellipse cx="436" cy="144" rx="12" ry="6" transform="rotate(-15 436 144)" fill="#b9c9e3"/><polygon points="368.5,212.2 388.6,198.2 406.6,198.2 400.6,210.2 376.6,218.3" fill="#b9c9e3"/><ellipse cx="492" cy="151" rx="12" ry="5" fill="#b9c9e3"/><ellipse cx="543" cy="191" rx="12" ry="6" fill="#b9c9e3"/><ellipse cx="573" cy="199" rx="13" ry="5" transform="rotate(10 573 199)" fill="#b9c9e3"/><ellipse cx="584" cy="137" rx="15" ry="6" transform="rotate(-15 584 137)" fill="#b9c9e3"/><ellipse cx="618" cy="143" rx="13" ry="6" transform="rotate(10 618 143)" fill="#b9c9e3"/><ellipse cx="631" cy="180" rx="12" ry="6" transform="rotate(20 631 180)" fill="#b9c9e3"/><ellipse cx="669" cy="159" rx="10" ry="5" fill="#b9c9e3"/><ellipse cx="693" cy="155" rx="8" ry="5" transform="rotate(-20 693 155)" fill="#b9c9e3"/><ellipse cx="728" cy="136" rx="20" ry="8" transform="rotate(-15 728 136)" fill="#b9c9e3"/><polyline points="708,220 736,210 758,198" fill="none" stroke="#b9c9e3" stroke-width="14" stroke-linecap="round" stroke-linejoin="round"/><ellipse cx="740" cy="208" rx="10" ry="6" transform="rotate(-20 740 208)" fill="#b9c9e3"/><ellipse cx="790" cy="184" rx="18" ry="8" transform="rotate(15 790 184)" fill="#b9c9e3"/><ellipse cx="835" cy="187" rx="10" ry="5" fill="#b9c9e3"/><polyline points="848,214 866,199" fill="none" stroke="#b9c9e3" stroke-width="10" stroke-linecap="round" stroke-linejoin="round"/><ellipse cx="887" cy="201" rx="12" ry="6" fill="#b9c9e3"/><ellipse cx="869" cy="132" rx="10" ry="5" fill="#b9c9e3"/><polyline points="800,243 818,230" fill="none" stroke="#b9c9e3" stroke-width="9" stroke-linecap="round" stroke-linejoin="round"/><ellipse cx="943" cy="251" rx="8" ry="6" fill="#b9c9e3"/><ellipse cx="1125" cy="133" rx="20" ry="7" fill="#b9c9e3"/><ellipse cx="1104" cy="285" rx="13" ry="5" fill="#b9c9e3"/><ellipse cx="1212" cy="288" rx="13" ry="9" fill="#b9c9e3"/><ellipse cx="1164" cy="300" rx="15" ry="5" fill="#b9c9e3"/><ellipse cx="422" cy="302" rx="9" ry="4" fill="#b9c9e3"/><ellipse cx="478" cy="424" rx="12" ry="10" fill="#b9c9e3"/><ellipse cx="539" cy="451" rx="9" ry="6" fill="#b9c9e3"/><polygon points="849.6,434.5 863,424.9 887.9,423 907.1,426.8 926.3,432.6 937.8,442.2 939.7,449.9 928.2,449.9 916.7,442.2 901.3,436.4 884.1,434.5 868.7,440.3 855.3,444.1" fill="#b9c9e3"/><polygon points="830.4,449.9 845.7,451.8 851.5,457.5 841.9,461.4 832.3,457.5" fill="#b9c9e3"/><ellipse cx="957" cy="461" rx="14" ry="9" transform="rotate(15 957 461)" fill="#b9c9e3"/><polygon points="724.9,469 738.4,465.2 757.5,470 780.5,476.7 795.9,486.3 815,492 834.2,494 868.7,490.1 868.7,497.8 834.2,499.7 818.9,507.4 817,517 830.4,526.6 843.8,534.2 838.1,547.7 826.6,549.6 811.2,538.1 799.7,518.9 784.4,507.4 763.3,495.9 738.4,484.4 726.8,478.6" fill="#b9c9e3"/><polygon points="734.5,471 761.4,474.8 786.3,484.4 807.4,495.9 813.1,507.4 807.4,515 792,503.5 769,492 742.2,480.5" fill="#b9c9e3"/><polygon points="864.9,472.9 884.1,467.1 899.4,472.9 914.8,476.7 933.9,478.6 939.7,486.3 930.1,494 907.1,495.9 891.8,490.1 876.4,482.5 866.8,478.6" fill="#b9c9e3"/><polyline points="823,496 865,493" fill="none" stroke="#b9c9e3" stroke-width="8" stroke-linecap="round" stroke-linejoin="round"/><polygon points="882.2,505.5 903.3,507.4 907.1,515 891.8,517 884.1,513.1" fill="#b9c9e3"/><ellipse cx="709" cy="494" rx="10" ry="8" fill="#b9c9e3"/><polygon points="972.7,414 1000,409 1025,405 1034,414 1030,424 1046,431 1047,440 1003,443 978,437 970,426" fill="#b9c9e3"/><polygon points="1038.8,393.2 1058,390 1078,393.2 1080,407 1062,414 1038,410 1030,402" fill="#b9c9e3"/><polyline points="1020,410 1045,402" fill="none" stroke="#b9c9e3" stroke-width="10" stroke-linecap="round" stroke-linejoin="round"/><polygon points="1082,393 1115,366 1134,368 1132,381 1107,393 1082,406" fill="#b9c9e3"/><polygon points="1131.7,331.3 1148.2,325.1 1168.9,331.3 1177.1,341.6 1164.8,349.9 1144.1,349.9 1131.7,341.6" fill="#b9c9e3"/><polygon points="1111,442.8 1131.7,432.5 1152.4,428.3 1168.9,430.4 1173,438.7 1162.7,451.1 1140,461.4 1123.4,455.2" fill="#b9c9e3"/><polygon points="1197.8,380.8 1212.2,374.7 1226,376.7 1226,401.5 1210.2,403.6 1197.8,393.2" fill="#b9c9e3"/><polygon points="1168.9,378.8 1183.3,376.7 1193.6,385 1187.5,393.2 1173,391.2" fill="#b9c9e3"/><polygon points="1177,414 1191.6,405.6 1195.7,422.2 1187.5,430.4 1175,424.2" fill="#b9c9e3"/><ellipse cx="1161" cy="304" rx="11" ry="5" fill="#b9c9e3"/><ellipse cx="1196" cy="318" rx="10" ry="5" transform="rotate(-15 1196 318)" fill="#b9c9e3"/><ellipse cx="962" cy="462" rx="6" ry="9" fill="#b9c9e3"/><polygon points="559.5,537.7 579.4,533.7 603.3,531.7 611.2,519.8 631.2,515.8 655,523.8 667,531.7 669,539.7 659,543.7 639,539.7 619.2,543.7 603.3,551.7 583.4,555.6 563.5,547.7" fill="#b9c9e3"/><polygon points="659,537.7 679,555.6 716,562 716,578 683,575.5 655,551.7" fill="#b9c9e3"/><ellipse cx="583" cy="489" rx="12" ry="7" fill="#b9c9e3"/><ellipse cx="696" cy="498" rx="14" ry="8" transform="rotate(-10 696 498)" fill="#b9c9e3"/><polyline points="444,538 478,572" fill="none" stroke="#b9c9e3" stroke-width="10" stroke-linecap="round" stroke-linejoin="round"/><polygon points="962.4,499.2 981,495.1 1003.7,497.2 1022.3,491 1024.3,501.3 1011.9,515.8 991.3,519.9 974.8,511.6" fill="#b9c9e3"/><polygon points="1076,482.7 1090.4,470.3 1107,466.2 1127.6,474.5 1135.8,482.7 1127.6,493 1098.7,495.1 1078,491" fill="#b9c9e3"/><polygon points="1057.4,515.8 1069.8,509.6 1086.3,517.8 1090.4,528.1 1078,536.4 1065.6,534.3 1055.3,524" fill="#b9c9e3"/><polygon points="1082,495 1100,494 1112,500 1100,512 1086,514" fill="#b9c9e3"/><polygon points="1032.6,466.2 1053.2,466.2 1057.4,474.5 1047,482.7 1034.7,474.5" fill="#b9c9e3"/><polygon points="1140,522 1146.2,505.4 1162.7,501.3 1175.1,511.6 1173,528.1 1152.4,532.3 1140,530.2" fill="#b9c9e3"/><polygon points="1193.6,515 1210,509.6 1226,512 1226,528 1205,528" fill="#b9c9e3"/><polygon points="1175,535 1190,530 1204,540 1200,561 1180,555" fill="#b9c9e3"/><polygon points="1200,553 1222,548 1226,579.8 1205,575" fill="#b9c9e3"/><polygon points="1185.4,472 1205,468.3 1210.2,480 1204,487 1190,482" fill="#b9c9e3"/><polygon points="1090.4,567.4 1107,563.2 1125.5,569.4 1140,571.5 1166.8,573.6 1164.8,583.9 1135.8,581.8 1111,586 1098.7,577.7" fill="#b9c9e3"/><ellipse cx="1114" cy="577" rx="12" ry="6" fill="#b9c9e3"/><polygon points="1016,602.5 1028.5,592.2 1045,596.3 1043,606.6 1028.5,610.7 1018,608.7" fill="#b9c9e3"/><polygon points="1171,604.5 1189.5,592.2 1204,596.3 1226,600.4 1226,621 1208.1,617 1191.6,608.7 1173,610.7" fill="#b9c9e3"/><ellipse cx="1069" cy="627" rx="10" ry="6" fill="#b9c9e3"/><ellipse cx="1125" cy="555" rx="6" ry="4" fill="#b9c9e3"/><ellipse cx="1136" cy="601" rx="4" ry="3" fill="#b9c9e3"/><polygon points="680,657 696.5,655 717.2,663.2 742,663.2 758.5,671.5 779,679.8 787.4,688 777,696.3 762.6,692.2 742,686 717.2,681.8 696.5,669.4 680,667.4" fill="#b9c9e3"/><polygon points="711,667 745,665 756,676 745,686 715,680" fill="#b9c9e3"/><polygon points="791.5,710.7 808,702.5 828.7,700.4 849.3,688 865.8,686 861.7,696.3 837,708.7 812.2,717 795.6,717" fill="#b9c9e3"/><ellipse cx="896" cy="676" rx="10" ry="6" fill="#b9c9e3"/><ellipse cx="832" cy="631" rx="11" ry="7" transform="rotate(-15 832 631)" fill="#b9c9e3"/><ellipse cx="780" cy="637" rx="7" ry="3" fill="#b9c9e3"/><polygon points="886.5,733.4 907,717 938,702.5 954.6,696.3 960,704.5 938,717 907,731.4 886.5,740" fill="#b9c9e3"/><polygon points="1075.4,677.2 1093,664 1104,657.4 1110.6,664 1099.6,675 1082,683.8" fill="#b9c9e3"/><polygon points="991.8,714.6 1011.6,712.4 1029.2,723.4 1024.8,734.4 1005,736.6 994,725.6" fill="#b9c9e3"/><polygon points="950,694 966,692 968,708 950,711" fill="#b9c9e3"/><ellipse cx="1146" cy="678" rx="8" ry="3" fill="#b9c9e3"/><ellipse cx="1209" cy="648" rx="8" ry="4" fill="#b9c9e3"/><polyline points="820,779 880,779 893,789 908,800 921,811 932,822 946,830 960,836" fill="none" stroke="#b9c9e3" stroke-width="11" stroke-linecap="round" stroke-linejoin="round"/></g><filter id="fl5" x="-10%" y="-10%" width="120%" height="120%"><feGaussianBlur stdDeviation="3.5"/></filter><g filter="url(#fl5)"><ellipse cx="195" cy="131" rx="18" ry="6" fill="#8e9fc3"/><polyline points="258,132 236,156" fill="none" stroke="#8e9fc3" stroke-width="11" stroke-linecap="round" stroke-linejoin="round"/><ellipse cx="204" cy="181" rx="12" ry="7" transform="rotate(10 204 181)" fill="#8e9fc3"/><polygon points="176,200.2 196,202.2 208.1,210.2 200.1,220.3 176,218.3" fill="#8e9fc3"/><polygon points="224.1,196.2 248.2,184.2 276.3,178.2 288.3,188.2 272.3,204.2 240.2,210.2 224.1,204.2" fill="#8e9fc3"/><polygon points="296.3,168.1 320.4,158.1 344.5,162.1 364.5,184.2 376.6,190.2 368.5,198.2 344.5,196.2 328.4,186.2 304.4,176.1" fill="#8e9fc3"/><polygon points="384.6,172.1 404.6,158.1 420.7,156.1 416.7,170.1 394.6,178.2" fill="#8e9fc3"/><ellipse cx="436" cy="144" rx="12" ry="6" transform="rotate(-15 436 144)" fill="#8e9fc3"/><polygon points="368.5,212.2 388.6,198.2 406.6,198.2 400.6,210.2 376.6,218.3" fill="#8e9fc3"/><ellipse cx="492" cy="151" rx="12" ry="5" fill="#8e9fc3"/><ellipse cx="543" cy="191" rx="12" ry="6" fill="#8e9fc3"/><ellipse cx="573" cy="199" rx="13" ry="5" transform="rotate(10 573 199)" fill="#8e9fc3"/><ellipse cx="584" cy="137" rx="15" ry="6" transform="rotate(-15 584 137)" fill="#8e9fc3"/><ellipse cx="618" cy="143" rx="13" ry="6" transform="rotate(10 618 143)" fill="#8e9fc3"/><ellipse cx="631" cy="180" rx="12" ry="6" transform="rotate(20 631 180)" fill="#8e9fc3"/><ellipse cx="669" cy="159" rx="10" ry="5" fill="#8e9fc3"/><ellipse cx="693" cy="155" rx="8" ry="5" transform="rotate(-20 693 155)" fill="#8e9fc3"/><ellipse cx="728" cy="136" rx="20" ry="8" transform="rotate(-15 728 136)" fill="#8e9fc3"/><polyline points="708,220 736,210 758,198" fill="none" stroke="#8e9fc3" stroke-width="14" stroke-linecap="round" stroke-linejoin="round"/><ellipse cx="740" cy="208" rx="10" ry="6" transform="rotate(-20 740 208)" fill="#8e9fc3"/><ellipse cx="790" cy="184" rx="18" ry="8" transform="rotate(15 790 184)" fill="#8e9fc3"/><ellipse cx="835" cy="187" rx="10" ry="5" fill="#8e9fc3"/><polyline points="848,214 866,199" fill="none" stroke="#8e9fc3" stroke-width="10" stroke-linecap="round" stroke-linejoin="round"/><ellipse cx="887" cy="201" rx="12" ry="6" fill="#8e9fc3"/><ellipse cx="869" cy="132" rx="10" ry="5" fill="#8e9fc3"/><polyline points="800,243 818,230" fill="none" stroke="#8e9fc3" stroke-width="9" stroke-linecap="round" stroke-linejoin="round"/><ellipse cx="943" cy="251" rx="8" ry="6" fill="#8e9fc3"/><ellipse cx="1125" cy="133" rx="20" ry="7" fill="#8e9fc3"/><ellipse cx="1104" cy="285" rx="13" ry="5" fill="#8e9fc3"/><ellipse cx="1212" cy="288" rx="13" ry="9" fill="#8e9fc3"/><ellipse cx="1164" cy="300" rx="15" ry="5" fill="#8e9fc3"/><ellipse cx="422" cy="302" rx="9" ry="4" fill="#8e9fc3"/><ellipse cx="478" cy="424" rx="12" ry="10" fill="#8e9fc3"/><ellipse cx="539" cy="451" rx="9" ry="6" fill="#8e9fc3"/><polygon points="849.6,434.5 863,424.9 887.9,423 907.1,426.8 926.3,432.6 937.8,442.2 939.7,449.9 928.2,449.9 916.7,442.2 901.3,436.4 884.1,434.5 868.7,440.3 855.3,444.1" fill="#8e9fc3"/><polygon points="830.4,449.9 845.7,451.8 851.5,457.5 841.9,461.4 832.3,457.5" fill="#8e9fc3"/><ellipse cx="957" cy="461" rx="14" ry="9" transform="rotate(15 957 461)" fill="#8e9fc3"/><polygon points="724.9,469 738.4,465.2 757.5,470 780.5,476.7 795.9,486.3 815,492 834.2,494 868.7,490.1 868.7,497.8 834.2,499.7 818.9,507.4 817,517 830.4,526.6 843.8,534.2 838.1,547.7 826.6,549.6 811.2,538.1 799.7,518.9 784.4,507.4 763.3,495.9 738.4,484.4 726.8,478.6" fill="#8e9fc3"/><polygon points="734.5,471 761.4,474.8 786.3,484.4 807.4,495.9 813.1,507.4 807.4,515 792,503.5 769,492 742.2,480.5" fill="#8e9fc3"/><polygon points="864.9,472.9 884.1,467.1 899.4,472.9 914.8,476.7 933.9,478.6 939.7,486.3 930.1,494 907.1,495.9 891.8,490.1 876.4,482.5 866.8,478.6" fill="#8e9fc3"/><polyline points="823,496 865,493" fill="none" stroke="#8e9fc3" stroke-width="8" stroke-linecap="round" stroke-linejoin="round"/><polygon points="882.2,505.5 903.3,507.4 907.1,515 891.8,517 884.1,513.1" fill="#8e9fc3"/><ellipse cx="709" cy="494" rx="10" ry="8" fill="#8e9fc3"/><polygon points="972.7,414 1000,409 1025,405 1034,414 1030,424 1046,431 1047,440 1003,443 978,437 970,426" fill="#8e9fc3"/><polygon points="1038.8,393.2 1058,390 1078,393.2 1080,407 1062,414 1038,410 1030,402" fill="#8e9fc3"/><polyline points="1020,410 1045,402" fill="none" stroke="#8e9fc3" stroke-width="10" stroke-linecap="round" stroke-linejoin="round"/><polygon points="1082,393 1115,366 1134,368 1132,381 1107,393 1082,406" fill="#8e9fc3"/><polygon points="1131.7,331.3 1148.2,325.1 1168.9,331.3 1177.1,341.6 1164.8,349.9 1144.1,349.9 1131.7,341.6" fill="#8e9fc3"/><polygon points="1111,442.8 1131.7,432.5 1152.4,428.3 1168.9,430.4 1173,438.7 1162.7,451.1 1140,461.4 1123.4,455.2" fill="#8e9fc3"/><polygon points="1197.8,380.8 1212.2,374.7 1226,376.7 1226,401.5 1210.2,403.6 1197.8,393.2" fill="#8e9fc3"/><polygon points="1168.9,378.8 1183.3,376.7 1193.6,385 1187.5,393.2 1173,391.2" fill="#8e9fc3"/><polygon points="1177,414 1191.6,405.6 1195.7,422.2 1187.5,430.4 1175,424.2" fill="#8e9fc3"/><ellipse cx="1161" cy="304" rx="11" ry="5" fill="#8e9fc3"/><ellipse cx="1196" cy="318" rx="10" ry="5" transform="rotate(-15 1196 318)" fill="#8e9fc3"/><ellipse cx="962" cy="462" rx="6" ry="9" fill="#8e9fc3"/><polygon points="559.5,537.7 579.4,533.7 603.3,531.7 611.2,519.8 631.2,515.8 655,523.8 667,531.7 669,539.7 659,543.7 639,539.7 619.2,543.7 603.3,551.7 583.4,555.6 563.5,547.7" fill="#8e9fc3"/><polygon points="659,537.7 679,555.6 716,562 716,578 683,575.5 655,551.7" fill="#8e9fc3"/><ellipse cx="583" cy="489" rx="12" ry="7" fill="#8e9fc3"/><ellipse cx="696" cy="498" rx="14" ry="8" transform="rotate(-10 696 498)" fill="#8e9fc3"/><polyline points="444,538 478,572" fill="none" stroke="#8e9fc3" stroke-width="10" stroke-linecap="round" stroke-linejoin="round"/><polygon points="962.4,499.2 981,495.1 1003.7,497.2 1022.3,491 1024.3,501.3 1011.9,515.8 991.3,519.9 974.8,511.6" fill="#8e9fc3"/><polygon points="1076,482.7 1090.4,470.3 1107,466.2 1127.6,474.5 1135.8,482.7 1127.6,493 1098.7,495.1 1078,491" fill="#8e9fc3"/><polygon points="1057.4,515.8 1069.8,509.6 1086.3,517.8 1090.4,528.1 1078,536.4 1065.6,534.3 1055.3,524" fill="#8e9fc3"/><polygon points="1082,495 1100,494 1112,500 1100,512 1086,514" fill="#8e9fc3"/><polygon points="1032.6,466.2 1053.2,466.2 1057.4,474.5 1047,482.7 1034.7,474.5" fill="#8e9fc3"/><polygon points="1140,522 1146.2,505.4 1162.7,501.3 1175.1,511.6 1173,528.1 1152.4,532.3 1140,530.2" fill="#8e9fc3"/><polygon points="1193.6,515 1210,509.6 1226,512 1226,528 1205,528" fill="#8e9fc3"/><polygon points="1175,535 1190,530 1204,540 1200,561 1180,555" fill="#8e9fc3"/><polygon points="1200,553 1222,548 1226,579.8 1205,575" fill="#8e9fc3"/><polygon points="1185.4,472 1205,468.3 1210.2,480 1204,487 1190,482" fill="#8e9fc3"/><polygon points="1090.4,567.4 1107,563.2 1125.5,569.4 1140,571.5 1166.8,573.6 1164.8,583.9 1135.8,581.8 1111,586 1098.7,577.7" fill="#8e9fc3"/><ellipse cx="1114" cy="577" rx="12" ry="6" fill="#8e9fc3"/><polygon points="1016,602.5 1028.5,592.2 1045,596.3 1043,606.6 1028.5,610.7 1018,608.7" fill="#8e9fc3"/><polygon points="1171,604.5 1189.5,592.2 1204,596.3 1226,600.4 1226,621 1208.1,617 1191.6,608.7 1173,610.7" fill="#8e9fc3"/><ellipse cx="1069" cy="627" rx="10" ry="6" fill="#8e9fc3"/><ellipse cx="1125" cy="555" rx="6" ry="4" fill="#8e9fc3"/><ellipse cx="1136" cy="601" rx="4" ry="3" fill="#8e9fc3"/><polygon points="680,657 696.5,655 717.2,663.2 742,663.2 758.5,671.5 779,679.8 787.4,688 777,696.3 762.6,692.2 742,686 717.2,681.8 696.5,669.4 680,667.4" fill="#8e9fc3"/><polygon points="711,667 745,665 756,676 745,686 715,680" fill="#8e9fc3"/><polygon points="791.5,710.7 808,702.5 828.7,700.4 849.3,688 865.8,686 861.7,696.3 837,708.7 812.2,717 795.6,717" fill="#8e9fc3"/><ellipse cx="896" cy="676" rx="10" ry="6" fill="#8e9fc3"/><ellipse cx="832" cy="631" rx="11" ry="7" transform="rotate(-15 832 631)" fill="#8e9fc3"/><ellipse cx="780" cy="637" rx="7" ry="3" fill="#8e9fc3"/><polygon points="886.5,733.4 907,717 938,702.5 954.6,696.3 960,704.5 938,717 907,731.4 886.5,740" fill="#8e9fc3"/><polygon points="1075.4,677.2 1093,664 1104,657.4 1110.6,664 1099.6,675 1082,683.8" fill="#8e9fc3"/><polygon points="991.8,714.6 1011.6,712.4 1029.2,723.4 1024.8,734.4 1005,736.6 994,725.6" fill="#8e9fc3"/><polygon points="950,694 966,692 968,708 950,711" fill="#8e9fc3"/><ellipse cx="1146" cy="678" rx="8" ry="3" fill="#8e9fc3"/><ellipse cx="1209" cy="648" rx="8" ry="4" fill="#8e9fc3"/><polyline points="820,779 880,779 893,789 908,800 921,811 932,822 946,830 960,836" fill="none" stroke="#8e9fc3" stroke-width="11" stroke-linecap="round" stroke-linejoin="round"/></g><filter id="fl6" x="-10%" y="-10%" width="120%" height="120%"><feMorphology operator="erode" radius="1" result="m"/><feGaussianBlur stdDeviation="3"/></filter><g filter="url(#fl6)"><ellipse cx="195" cy="131" rx="18" ry="6" fill="#6b7ca3"/><polygon points="176,200.2 196,202.2 208.1,210.2 200.1,220.3 176,218.3" fill="#6b7ca3"/><polygon points="224.1,196.2 248.2,184.2 276.3,178.2 288.3,188.2 272.3,204.2 240.2,210.2 224.1,204.2" fill="#6b7ca3"/><polygon points="296.3,168.1 320.4,158.1 344.5,162.1 364.5,184.2 376.6,190.2 368.5,198.2 344.5,196.2 328.4,186.2 304.4,176.1" fill="#6b7ca3"/><polygon points="384.6,172.1 404.6,158.1 420.7,156.1 416.7,170.1 394.6,178.2" fill="#6b7ca3"/><polygon points="368.5,212.2 388.6,198.2 406.6,198.2 400.6,210.2 376.6,218.3" fill="#6b7ca3"/><ellipse cx="543" cy="191" rx="12" ry="6" fill="#6b7ca3"/><ellipse cx="584" cy="137" rx="15" ry="6" transform="rotate(-15 584 137)" fill="#6b7ca3"/><ellipse cx="618" cy="143" rx="13" ry="6" transform="rotate(10 618 143)" fill="#6b7ca3"/><ellipse cx="631" cy="180" rx="12" ry="6" transform="rotate(20 631 180)" fill="#6b7ca3"/><ellipse cx="728" cy="136" rx="20" ry="8" transform="rotate(-15 728 136)" fill="#6b7ca3"/><ellipse cx="740" cy="208" rx="10" ry="6" transform="rotate(-20 740 208)" fill="#6b7ca3"/><ellipse cx="790" cy="184" rx="18" ry="8" transform="rotate(15 790 184)" fill="#6b7ca3"/><polyline points="848,214 866,199" fill="none" stroke="#6b7ca3" stroke-width="10" stroke-linecap="round" stroke-linejoin="round"/><ellipse cx="1125" cy="133" rx="20" ry="7" fill="#6b7ca3"/><ellipse cx="1164" cy="300" rx="15" ry="5" fill="#6b7ca3"/><polygon points="849.6,434.5 863,424.9 887.9,423 907.1,426.8 926.3,432.6 937.8,442.2 939.7,449.9 928.2,449.9 916.7,442.2 901.3,436.4 884.1,434.5 868.7,440.3 855.3,444.1" fill="#6b7ca3"/><ellipse cx="957" cy="461" rx="14" ry="9" transform="rotate(15 957 461)" fill="#6b7ca3"/><polygon points="724.9,469 738.4,465.2 757.5,470 780.5,476.7 795.9,486.3 815,492 834.2,494 868.7,490.1 868.7,497.8 834.2,499.7 818.9,507.4 817,517 830.4,526.6 843.8,534.2 838.1,547.7 826.6,549.6 811.2,538.1 799.7,518.9 784.4,507.4 763.3,495.9 738.4,484.4 726.8,478.6" fill="#6b7ca3"/><polygon points="734.5,471 761.4,474.8 786.3,484.4 807.4,495.9 813.1,507.4 807.4,515 792,503.5 769,492 742.2,480.5" fill="#6b7ca3"/><polygon points="864.9,472.9 884.1,467.1 899.4,472.9 914.8,476.7 933.9,478.6 939.7,486.3 930.1,494 907.1,495.9 891.8,490.1 876.4,482.5 866.8,478.6" fill="#6b7ca3"/><polygon points="972.7,414 1000,409 1025,405 1034,414 1030,424 1046,431 1047,440 1003,443 978,437 970,426" fill="#6b7ca3"/><polygon points="1038.8,393.2 1058,390 1078,393.2 1080,407 1062,414 1038,410 1030,402" fill="#6b7ca3"/><polyline points="1020,410 1045,402" fill="none" stroke="#6b7ca3" stroke-width="10" stroke-linecap="round" stroke-linejoin="round"/><polygon points="1131.7,331.3 1148.2,325.1 1168.9,331.3 1177.1,341.6 1164.8,349.9 1144.1,349.9 1131.7,341.6" fill="#6b7ca3"/><polygon points="1111,442.8 1131.7,432.5 1152.4,428.3 1168.9,430.4 1173,438.7 1162.7,451.1 1140,461.4 1123.4,455.2" fill="#6b7ca3"/><polygon points="1197.8,380.8 1212.2,374.7 1226,376.7 1226,401.5 1210.2,403.6 1197.8,393.2" fill="#6b7ca3"/><polygon points="1168.9,378.8 1183.3,376.7 1193.6,385 1187.5,393.2 1173,391.2" fill="#6b7ca3"/><polygon points="559.5,537.7 579.4,533.7 603.3,531.7 611.2,519.8 631.2,515.8 655,523.8 667,531.7 669,539.7 659,543.7 639,539.7 619.2,543.7 603.3,551.7 583.4,555.6 563.5,547.7" fill="#6b7ca3"/><polygon points="659,537.7 679,555.6 716,562 716,578 683,575.5 655,551.7" fill="#6b7ca3"/><polyline points="444,538 478,572" fill="none" stroke="#6b7ca3" stroke-width="10" stroke-linecap="round" stroke-linejoin="round"/><polygon points="962.4,499.2 981,495.1 1003.7,497.2 1022.3,491 1024.3,501.3 1011.9,515.8 991.3,519.9 974.8,511.6" fill="#6b7ca3"/><polygon points="1076,482.7 1090.4,470.3 1107,466.2 1127.6,474.5 1135.8,482.7 1127.6,493 1098.7,495.1 1078,491" fill="#6b7ca3"/><polygon points="1057.4,515.8 1069.8,509.6 1086.3,517.8 1090.4,528.1 1078,536.4 1065.6,534.3 1055.3,524" fill="#6b7ca3"/><polygon points="1032.6,466.2 1053.2,466.2 1057.4,474.5 1047,482.7 1034.7,474.5" fill="#6b7ca3"/><polygon points="1140,522 1146.2,505.4 1162.7,501.3 1175.1,511.6 1173,528.1 1152.4,532.3 1140,530.2" fill="#6b7ca3"/><polygon points="1193.6,515 1210,509.6 1226,512 1226,528 1205,528" fill="#6b7ca3"/><polygon points="1175,535 1190,530 1204,540 1200,561 1180,555" fill="#6b7ca3"/><polygon points="1185.4,472 1205,468.3 1210.2,480 1204,487 1190,482" fill="#6b7ca3"/><polygon points="1090.4,567.4 1107,563.2 1125.5,569.4 1140,571.5 1166.8,573.6 1164.8,583.9 1135.8,581.8 1111,586 1098.7,577.7" fill="#6b7ca3"/><ellipse cx="1114" cy="577" rx="12" ry="6" fill="#6b7ca3"/><polygon points="1016,602.5 1028.5,592.2 1045,596.3 1043,606.6 1028.5,610.7 1018,608.7" fill="#6b7ca3"/><polygon points="1171,604.5 1189.5,592.2 1204,596.3 1226,600.4 1226,621 1208.1,617 1191.6,608.7 1173,610.7" fill="#6b7ca3"/><ellipse cx="1069" cy="627" rx="10" ry="6" fill="#6b7ca3"/><polygon points="711,667 745,665 756,676 745,686 715,680" fill="#6b7ca3"/><polygon points="791.5,710.7 808,702.5 828.7,700.4 849.3,688 865.8,686 861.7,696.3 837,708.7 812.2,717 795.6,717" fill="#6b7ca3"/><ellipse cx="832" cy="631" rx="11" ry="7" transform="rotate(-15 832 631)" fill="#6b7ca3"/><polygon points="1075.4,677.2 1093,664 1104,657.4 1110.6,664 1099.6,675 1082,683.8" fill="#6b7ca3"/><polygon points="991.8,714.6 1011.6,712.4 1029.2,723.4 1024.8,734.4 1005,736.6 994,725.6" fill="#6b7ca3"/><polyline points="820,779 880,779 893,789 908,800 921,811 932,822 946,830 960,836" fill="none" stroke="#6b7ca3" stroke-width="11" stroke-linecap="round" stroke-linejoin="round"/></g><filter id="fl7" x="-10%" y="-10%" width="120%" height="120%"><feMorphology operator="erode" radius="3" result="m"/><feGaussianBlur stdDeviation="3"/></filter><g filter="url(#fl7)"><ellipse cx="195" cy="131" rx="18" ry="6" fill="#53658d"/><polygon points="176,200.2 196,202.2 208.1,210.2 200.1,220.3 176,218.3" fill="#53658d"/><polygon points="224.1,196.2 248.2,184.2 276.3,178.2 288.3,188.2 272.3,204.2 240.2,210.2 224.1,204.2" fill="#53658d"/><polygon points="296.3,168.1 320.4,158.1 344.5,162.1 364.5,184.2 376.6,190.2 368.5,198.2 344.5,196.2 328.4,186.2 304.4,176.1" fill="#53658d"/><polygon points="384.6,172.1 404.6,158.1 420.7,156.1 416.7,170.1 394.6,178.2" fill="#53658d"/><polygon points="368.5,212.2 388.6,198.2 406.6,198.2 400.6,210.2 376.6,218.3" fill="#53658d"/><ellipse cx="728" cy="136" rx="20" ry="8" transform="rotate(-15 728 136)" fill="#53658d"/><ellipse cx="790" cy="184" rx="18" ry="8" transform="rotate(15 790 184)" fill="#53658d"/><polyline points="848,214 866,199" fill="none" stroke="#53658d" stroke-width="10" stroke-linecap="round" stroke-linejoin="round"/><ellipse cx="1125" cy="133" rx="20" ry="7" fill="#53658d"/><ellipse cx="1164" cy="300" rx="15" ry="5" fill="#53658d"/><polygon points="849.6,434.5 863,424.9 887.9,423 907.1,426.8 926.3,432.6 937.8,442.2 939.7,449.9 928.2,449.9 916.7,442.2 901.3,436.4 884.1,434.5 868.7,440.3 855.3,444.1" fill="#53658d"/><ellipse cx="957" cy="461" rx="14" ry="9" transform="rotate(15 957 461)" fill="#53658d"/><polygon points="724.9,469 738.4,465.2 757.5,470 780.5,476.7 795.9,486.3 815,492 834.2,494 868.7,490.1 868.7,497.8 834.2,499.7 818.9,507.4 817,517 830.4,526.6 843.8,534.2 838.1,547.7 826.6,549.6 811.2,538.1 799.7,518.9 784.4,507.4 763.3,495.9 738.4,484.4 726.8,478.6" fill="#53658d"/><polygon points="734.5,471 761.4,474.8 786.3,484.4 807.4,495.9 813.1,507.4 807.4,515 792,503.5 769,492 742.2,480.5" fill="#53658d"/><polygon points="864.9,472.9 884.1,467.1 899.4,472.9 914.8,476.7 933.9,478.6 939.7,486.3 930.1,494 907.1,495.9 891.8,490.1 876.4,482.5 866.8,478.6" fill="#53658d"/><polygon points="972.7,414 1000,409 1025,405 1034,414 1030,424 1046,431 1047,440 1003,443 978,437 970,426" fill="#53658d"/><polygon points="1038.8,393.2 1058,390 1078,393.2 1080,407 1062,414 1038,410 1030,402" fill="#53658d"/><polyline points="1020,410 1045,402" fill="none" stroke="#53658d" stroke-width="10" stroke-linecap="round" stroke-linejoin="round"/><polygon points="1111,442.8 1131.7,432.5 1152.4,428.3 1168.9,430.4 1173,438.7 1162.7,451.1 1140,461.4 1123.4,455.2" fill="#53658d"/><polygon points="1197.8,380.8 1212.2,374.7 1226,376.7 1226,401.5 1210.2,403.6 1197.8,393.2" fill="#53658d"/><polygon points="1168.9,378.8 1183.3,376.7 1193.6,385 1187.5,393.2 1173,391.2" fill="#53658d"/><polygon points="559.5,537.7 579.4,533.7 603.3,531.7 611.2,519.8 631.2,515.8 655,523.8 667,531.7 669,539.7 659,543.7 639,539.7 619.2,543.7 603.3,551.7 583.4,555.6 563.5,547.7" fill="#53658d"/><polygon points="659,537.7 679,555.6 716,562 716,578 683,575.5 655,551.7" fill="#53658d"/><polygon points="962.4,499.2 981,495.1 1003.7,497.2 1022.3,491 1024.3,501.3 1011.9,515.8 991.3,519.9 974.8,511.6" fill="#53658d"/><polygon points="1076,482.7 1090.4,470.3 1107,466.2 1127.6,474.5 1135.8,482.7 1127.6,493 1098.7,495.1 1078,491" fill="#53658d"/><polygon points="1057.4,515.8 1069.8,509.6 1086.3,517.8 1090.4,528.1 1078,536.4 1065.6,534.3 1055.3,524" fill="#53658d"/><polygon points="1032.6,466.2 1053.2,466.2 1057.4,474.5 1047,482.7 1034.7,474.5" fill="#53658d"/><polygon points="1140,522 1146.2,505.4 1162.7,501.3 1175.1,511.6 1173,528.1 1152.4,532.3 1140,530.2" fill="#53658d"/><polygon points="1193.6,515 1210,509.6 1226,512 1226,528 1205,528" fill="#53658d"/><polygon points="1175,535 1190,530 1204,540 1200,561 1180,555" fill="#53658d"/><polygon points="1185.4,472 1205,468.3 1210.2,480 1204,487 1190,482" fill="#53658d"/><polygon points="1090.4,567.4 1107,563.2 1125.5,569.4 1140,571.5 1166.8,573.6 1164.8,583.9 1135.8,581.8 1111,586 1098.7,577.7" fill="#53658d"/><ellipse cx="1114" cy="577" rx="12" ry="6" fill="#53658d"/><polygon points="1016,602.5 1028.5,592.2 1045,596.3 1043,606.6 1028.5,610.7 1018,608.7" fill="#53658d"/><polygon points="1171,604.5 1189.5,592.2 1204,596.3 1226,600.4 1226,621 1208.1,617 1191.6,608.7 1173,610.7" fill="#53658d"/><ellipse cx="1069" cy="627" rx="10" ry="6" fill="#53658d"/><polygon points="711,667 745,665 756,676 745,686 715,680" fill="#53658d"/><polygon points="791.5,710.7 808,702.5 828.7,700.4 849.3,688 865.8,686 861.7,696.3 837,708.7 812.2,717 795.6,717" fill="#53658d"/><ellipse cx="832" cy="631" rx="11" ry="7" transform="rotate(-15 832 631)" fill="#53658d"/><polygon points="1075.4,677.2 1093,664 1104,657.4 1110.6,664 1099.6,675 1082,683.8" fill="#53658d"/><polygon points="991.8,714.6 1011.6,712.4 1029.2,723.4 1024.8,734.4 1005,736.6 994,725.6" fill="#53658d"/><polyline points="820,779 880,779 893,789 908,800 921,811 932,822 946,830 960,836" fill="none" stroke="#53658d" stroke-width="11" stroke-linecap="round" stroke-linejoin="round"/></g><filter id="fl8" x="-10%" y="-10%" width="120%" height="120%"><feMorphology operator="erode" radius="4" result="m"/><feGaussianBlur stdDeviation="3"/></filter><g filter="url(#fl8)"><polygon points="734.5,471 761.4,474.8 786.3,484.4 807.4,495.9 813.1,507.4 807.4,515 792,503.5 769,492 742.2,480.5" fill="#3f5179"/><polygon points="864.9,472.9 884.1,467.1 899.4,472.9 914.8,476.7 933.9,478.6 939.7,486.3 930.1,494 907.1,495.9 891.8,490.1 876.4,482.5 866.8,478.6" fill="#3f5179"/><polygon points="972.7,414 1000,409 1025,405 1034,414 1030,424 1046,431 1047,440 1003,443 978,437 970,426" fill="#3f5179"/><polygon points="1038.8,393.2 1058,390 1078,393.2 1080,407 1062,414 1038,410 1030,402" fill="#3f5179"/><polygon points="1111,442.8 1131.7,432.5 1152.4,428.3 1168.9,430.4 1173,438.7 1162.7,451.1 1140,461.4 1123.4,455.2" fill="#3f5179"/><polygon points="1197.8,380.8 1212.2,374.7 1226,376.7 1226,401.5 1210.2,403.6 1197.8,393.2" fill="#3f5179"/><polygon points="962.4,499.2 981,495.1 1003.7,497.2 1022.3,491 1024.3,501.3 1011.9,515.8 991.3,519.9 974.8,511.6" fill="#3f5179"/><polygon points="1076,482.7 1090.4,470.3 1107,466.2 1127.6,474.5 1135.8,482.7 1127.6,493 1098.7,495.1 1078,491" fill="#3f5179"/><polygon points="1057.4,515.8 1069.8,509.6 1086.3,517.8 1090.4,528.1 1078,536.4 1065.6,534.3 1055.3,524" fill="#3f5179"/><ellipse cx="1114" cy="577" rx="12" ry="6" fill="#3f5179"/><polygon points="711,667 745,665 756,676 745,686 715,680" fill="#3f5179"/></g><filter id="fl9" x="-10%" y="-10%" width="120%" height="120%"><feMorphology operator="dilate" radius="2" result="m"/><feGaussianBlur stdDeviation="4"/></filter><g filter="url(#fl9)"><ellipse cx="1054" cy="449" rx="10" ry="6" fill="#f0c8a4"/><polygon points="982,447 995,452 1015,470 1018,483 1005,482 985,462" fill="#f0c8a4"/><ellipse cx="1000" cy="468" rx="6" ry="4" transform="rotate(40 1000 468)" fill="#f0c8a4"/><ellipse cx="1217" cy="357" rx="4" ry="4" fill="#f0c8a4"/><ellipse cx="1155" cy="696" rx="12" ry="5" fill="#f0c8a4"/><ellipse cx="476" cy="532" rx="11" ry="12" fill="#f0c8a4"/><polyline points="498,559 520,556 539,546" fill="none" stroke="#f0c8a4" stroke-width="14" stroke-linecap="round" stroke-linejoin="round"/></g><filter id="fl10" x="-10%" y="-10%" width="120%" height="120%"><feGaussianBlur stdDeviation="3"/></filter><g filter="url(#fl10)"><ellipse cx="1054" cy="449" rx="10" ry="6" fill="#e9a462"/><polygon points="982,447 995,452 1015,470 1018,483 1005,482 985,462" fill="#e9a462"/><ellipse cx="1000" cy="468" rx="6" ry="4" transform="rotate(40 1000 468)" fill="#e9a462"/><ellipse cx="1217" cy="357" rx="4" ry="4" fill="#e9a462"/><ellipse cx="1155" cy="696" rx="12" ry="5" fill="#e9a462"/><ellipse cx="476" cy="532" rx="11" ry="12" fill="#e9a462"/><polyline points="498,559 520,556 539,546" fill="none" stroke="#e9a462" stroke-width="14" stroke-linecap="round" stroke-linejoin="round"/></g><filter id="fl11" x="-10%" y="-10%" width="120%" height="120%"><feGaussianBlur stdDeviation="3"/></filter><g filter="url(#fl11)"><ellipse cx="1054" cy="449" rx="10" ry="6" fill="#e2871e"/><ellipse cx="1000" cy="468" rx="6" ry="4" transform="rotate(40 1000 468)" fill="#e2871e"/><ellipse cx="1217" cy="357" rx="4" ry="4" fill="#e2871e"/><ellipse cx="1155" cy="696" rx="12" ry="5" fill="#e2871e"/><ellipse cx="476" cy="532" rx="11" ry="12" fill="#e2871e"/><polyline points="498,559 520,556 539,546" fill="none" stroke="#e2871e" stroke-width="14" stroke-linecap="round" stroke-linejoin="round"/></g>
<filter id="rb1" x="-20%" y="-20%" width="140%" height="140%"><feGaussianBlur stdDeviation="4"/></filter>
<filter id="rb2" x="-20%" y="-20%" width="140%" height="140%"><feGaussianBlur stdDeviation="2.5"/></filter>
<filter id="rb3" x="-30%" y="-30%" width="160%" height="160%"><feGaussianBlur stdDeviation="3.5"/></filter>
<g filter="url(#rb1)"><polygon points="174,398 200,418 228,428 236,404 300,400 312,418 338,428 366,440 386,450 384,466 174,468" fill="#f5dccb"/></g>
<g filter="url(#rb2)"><polygon points="174,406 200,426 228,436 250,431 275,434 300,426 332,434 360,444 378,452 372,462 320,462 306,473 288,472 275,463 251,459 230,456 214,452 190,442 174,442" fill="#e3801e"/>
 <ellipse cx="254" cy="421" rx="13" ry="10" fill="#e07a12"/>
 <ellipse cx="290" cy="419" rx="12" ry="11" fill="#e49a52"/>
 <polygon points="282,428 302,412 322,432 300,442" fill="#e38a30"/>
</g>
<g filter="url(#rb3)">
 <ellipse cx="272" cy="429" rx="6" ry="6" fill="#f2d6c4"/>
 <ellipse cx="232" cy="456" rx="13" ry="5" fill="#efc6a6"/>
 <ellipse cx="190" cy="432" rx="14" ry="8" fill="#e85e14"/>
</g>
<g filter="url(#rb2)">
 <ellipse cx="296" cy="454" rx="17" ry="13" fill="#f04a10"/>
 <ellipse cx="267" cy="452" rx="12" ry="8" fill="#ff0a00"/>
 <polygon points="290,436 318,430 340,438 372,449 378,457 340,463 300,463" fill="#f41010"/>
</g>
<g filter="url(#rb3)"><polygon points="306,441 338,441 364,450 358,460 308,460" fill="#a3172f"/></g>
<polygon points="174,431.5 184.5,431.5 184.5,443.7 207,443.7 207,449.3 213.7,449.3 213.7,455 219.4,455 219.4,466.4 272,466.4 272,472.9 283.5,472.9 283.5,478.5 294.8,478.5 294.8,473.7 307.8,473.7 307.8,467.2 312.7,467.2 312.7,461.5 388.5,461.5 389,482 394,492 395,506 412,506 412,512 418,512 418,518 424,518 424,524 430,524 430,530 436,530 436,536 442,536 442,542 448,542 448,548 454,548 454,554 460,554 460,560 466,560 466,566 472,566 472,573 477,573 547,573 547.5,579.5 559.5,579.5 559.5,585.5 575.4,585.5 575.4,591.5 581.4,591.5 581.4,597.4 593.3,597.4 593.3,603.4 599.3,603.4 599.3,608.4 605.3,608.4 605.3,613.4 615.2,613.4 615.2,619.4 622.2,619.4 622.2,648 628,654 628,660 640,662 640,672 646,673 646,707 652,708 652,713 664,714 664,719 681,720 681,725 693,725 704,731 728,731 728,736 739,737 739,742 757,743 757,748 768,749 768,754 774,754 774,771 815,772 815,778 839,778 839,783 856,783 856,778 880,778 880,783 891,783 891,789 897,789 897,795 908,795 908,801 915,801 915,807 921,807 921,813 926,813 926,819 932,819 932,824 944,824 944,830 979,830 979,842 174,842" fill="#ffffff"/><polygon points="174,258 190.4,258 190.4,264.2 208,264.2 208,270 213.8,270 215.5,299.6 202.3,299.6 202.3,293.8 174,293.8" fill="#ffffff"/><polygon points="237.3,276.1 278.5,276.1 278.5,305.8 243,305.8 243,300 237.3,300" fill="#ffffff"/><linearGradient id="bpx" x1="0" x2="0" y1="0" y2="1"><stop offset="0" stop-color="#8a9cc0"/><stop offset="0.5" stop-color="#3f5179"/><stop offset="1" stop-color="#34466e"/></linearGradient><rect x="359.7" y="466.4" width="11.3" height="12.1" fill="url(#bpx)"/><rect x="272" y="467" width="7" height="6" fill="#a8b8d8"/><polygon points="174,442 178,442 182,452 196,452.4 208,456 213,460 219,477 236,475.6 250,474 266,474 270,480 280,484 292,485.6 302,482 316,472 358,472 340,475.6 356,493 362,491.6 386,499 390,512 387,525 404,521 440,544 444,553 443,564 452,562 472,576 478,584 494,585.6 512,583 528,583.6 550,590 576,600 600,618 620,634 621,648 628,664 631,679 645,681 643,699 626,716 616,726 612,738 610,750 623,745 630,760 633,732 643,726 656,727.6 667,726 680,729.6 673,755 678,758 686,741 694,737.6 707,738 720,745 730,749 748,753 752,761 764,757.6 773,777 770,788 795,778.6 806,781 818,786 830,786.4 841,791.7 853,792 864,788 877,788 911.6,811.6 927.5,827 936.8,832 942.8,837 946,842 174,842" fill="#808080" stroke="#000" stroke-width="1.1" stroke-linejoin="round"/><polygon points="178,257 182,265.5 195.2,265 186.4,271.2 204.5,274.8 214.7,285 206.7,295 198.8,286.3 188.6,286.3 178,289.8 174,290 174,257" fill="#808080" stroke="#000" stroke-width="1.1" stroke-linejoin="round"/><polygon points="242.1,285 269.1,285 277.1,291.2 270.9,296.9 258.5,298.2 251.4,299.6 242.1,296.9" fill="#808080" stroke="#000" stroke-width="1.1" stroke-linejoin="round"/><polygon points="370,471 386,470 386,482 376,486 367,488 374,482 374,473" fill="#808080" stroke="#000" stroke-width="1.1" stroke-linejoin="round"/><polygon points="366.4,339.2 378.8,341.2 374.8,335.2 368.8,346.8" fill="#808080" stroke="#000" stroke-width="1.1" stroke-linejoin="round"/><path d="M382,373.2 Q387,376 390,381.2" fill="none" stroke="#000" stroke-width="1.8"/><path d="M191,430 Q196,433 199,437" fill="none" stroke="#000" stroke-width="1.5"/><g stroke="#000" stroke-width="1" stroke-dasharray="1,3" fill="none"><line x1="176" y1="150.5" x2="1225" y2="150.5"/><line x1="176" y1="297.5" x2="1225" y2="297.5"/><line x1="176" y1="440.5" x2="1225" y2="440.5"/><line x1="176" y1="581.5" x2="1225" y2="581.5"/><line x1="176" y1="722.5" x2="1225" y2="722.5"/><line x1="339.5" y1="126" x2="339.5" y2="837"/><line x1="549.5" y1="126" x2="549.5" y2="837"/><line x1="759.5" y1="126" x2="759.5" y2="837"/><line x1="970.5" y1="126" x2="970.5" y2="837"/><line x1="1180.5" y1="126" x2="1180.5" y2="837"/></g></g><rect x="176" y="126" width="1051" height="713" fill="none" stroke="#000" stroke-width="4" stroke-linejoin="round"/><g stroke="#000" stroke-width="4"><line x1="176" y1="150.5" x2="186.5" y2="150.5"/><line x1="1216.5" y1="150.5" x2="1227" y2="150.5"/><line x1="176" y1="297.5" x2="186.5" y2="297.5"/><line x1="1216.5" y1="297.5" x2="1227" y2="297.5"/><line x1="176" y1="440.5" x2="186.5" y2="440.5"/><line x1="1216.5" y1="440.5" x2="1227" y2="440.5"/><line x1="176" y1="581.5" x2="186.5" y2="581.5"/><line x1="1216.5" y1="581.5" x2="1227" y2="581.5"/><line x1="176" y1="722.5" x2="186.5" y2="722.5"/><line x1="1216.5" y1="722.5" x2="1227" y2="722.5"/><line x1="339.5" y1="126" x2="339.5" y2="136.5"/><line x1="339.5" y1="828.5" x2="339.5" y2="839"/><line x1="549.5" y1="126" x2="549.5" y2="136.5"/><line x1="549.5" y1="828.5" x2="549.5" y2="839"/><line x1="759.5" y1="126" x2="759.5" y2="136.5"/><line x1="759.5" y1="828.5" x2="759.5" y2="839"/><line x1="970.5" y1="126" x2="970.5" y2="136.5"/><line x1="970.5" y1="828.5" x2="970.5" y2="839"/><line x1="1180.5" y1="126" x2="1180.5" y2="136.5"/><line x1="1180.5" y1="828.5" x2="1180.5" y2="839"/></g><rect x="177.5" y="880.5" width="1062" height="19" fill="url(#cbar)" stroke="#262626" stroke-width="1"/><g stroke="#262626" stroke-width="1"><line x1="354.5" y1="889" x2="354.5" y2="899"/><line x1="531.5" y1="889" x2="531.5" y2="899"/><line x1="708.5" y1="889" x2="708.5" y2="899"/><line x1="885.5" y1="889" x2="885.5" y2="899"/><line x1="1062.5" y1="889" x2="1062.5" y2="899"/></g><g font-family="Liberation Sans, sans-serif"><text x="709.5" y="77" font-size="31.5" text-anchor="middle" font-weight="bold" fill="#000">AVHRR Meridional Sea Surface Temperature Gradient</text><text x="701" y="116" font-size="25" text-anchor="middle" font-weight="bold" fill="#000">2018-03-21</text><text x="171.3" y="159.8" font-size="17" text-anchor="end">24<tspan font-size="13" dx="0.5" dy="-8">o</tspan><tspan dx="0.5" dy="8">N</tspan></text><text x="171.3" y="306.8" font-size="17" text-anchor="end">18<tspan font-size="13" dx="0.5" dy="-8">o</tspan><tspan dx="0.5" dy="8">N</tspan></text><text x="171.3" y="449.8" font-size="17" text-anchor="end">12<tspan font-size="13" dx="0.5" dy="-8">o</tspan><tspan dx="0.5" dy="8">N</tspan></text><text x="171.3" y="590.8" font-size="17" text-anchor="end">6<tspan font-size="13" dx="0.5" dy="-8">o</tspan><tspan dx="0.5" dy="8">N</tspan></text><text x="165" y="730.7" font-size="17" text-anchor="end">0<tspan font-size="13" dx="0.5" dy="-8">o</tspan></text><text x="340.8" y="861" font-size="17" text-anchor="middle">63<tspan font-size="13" dx="0.5" dy="-8">o</tspan><tspan dx="0.5" dy="8">W</tspan></text><text x="550.8" y="861" font-size="17" text-anchor="middle">54<tspan font-size="13" dx="0.5" dy="-8">o</tspan><tspan dx="0.5" dy="8">W</tspan></text><text x="760.8" y="861" font-size="17" text-anchor="middle">45<tspan font-size="13" dx="0.5" dy="-8">o</tspan><tspan dx="0.5" dy="8">W</tspan></text><text x="971.8" y="861" font-size="17" text-anchor="middle">36<tspan font-size="13" dx="0.5" dy="-8">o</tspan><tspan dx="0.5" dy="8">W</tspan></text><text x="1181.8" y="861" font-size="17" text-anchor="middle">27<tspan font-size="13" dx="0.5" dy="-8">o</tspan><tspan dx="0.5" dy="8">W</tspan></text><text x="177.5" y="924" font-size="16.5" text-anchor="middle" font-weight="normal" fill="#262626">-0.03</text><text x="354.5" y="924" font-size="16.5" text-anchor="middle" font-weight="normal" fill="#262626">-0.02</text><text x="531.5" y="924" font-size="16.5" text-anchor="middle" font-weight="normal" fill="#262626">-0.01</text><text x="708.5" y="924" font-size="16.5" text-anchor="middle" font-weight="normal" fill="#262626">0</text><text x="885.5" y="924" font-size="16.5" text-anchor="middle" font-weight="normal" fill="#262626">0.01</text><text x="1062.5" y="924" font-size="16.5" text-anchor="middle" font-weight="normal" fill="#262626">0.02</text><text x="1239.5" y="924" font-size="16.5" text-anchor="middle" font-weight="normal" fill="#262626">0.03</text><text x="687.5" y="948" font-size="16.5" text-anchor="start" fill="#262626"><tspan font-size="16" dx="-1" dy="0.5">°</tspan><tspan dx="0" dy="-0.5">C/km</tspan></text></g></svg>
</body></html>
